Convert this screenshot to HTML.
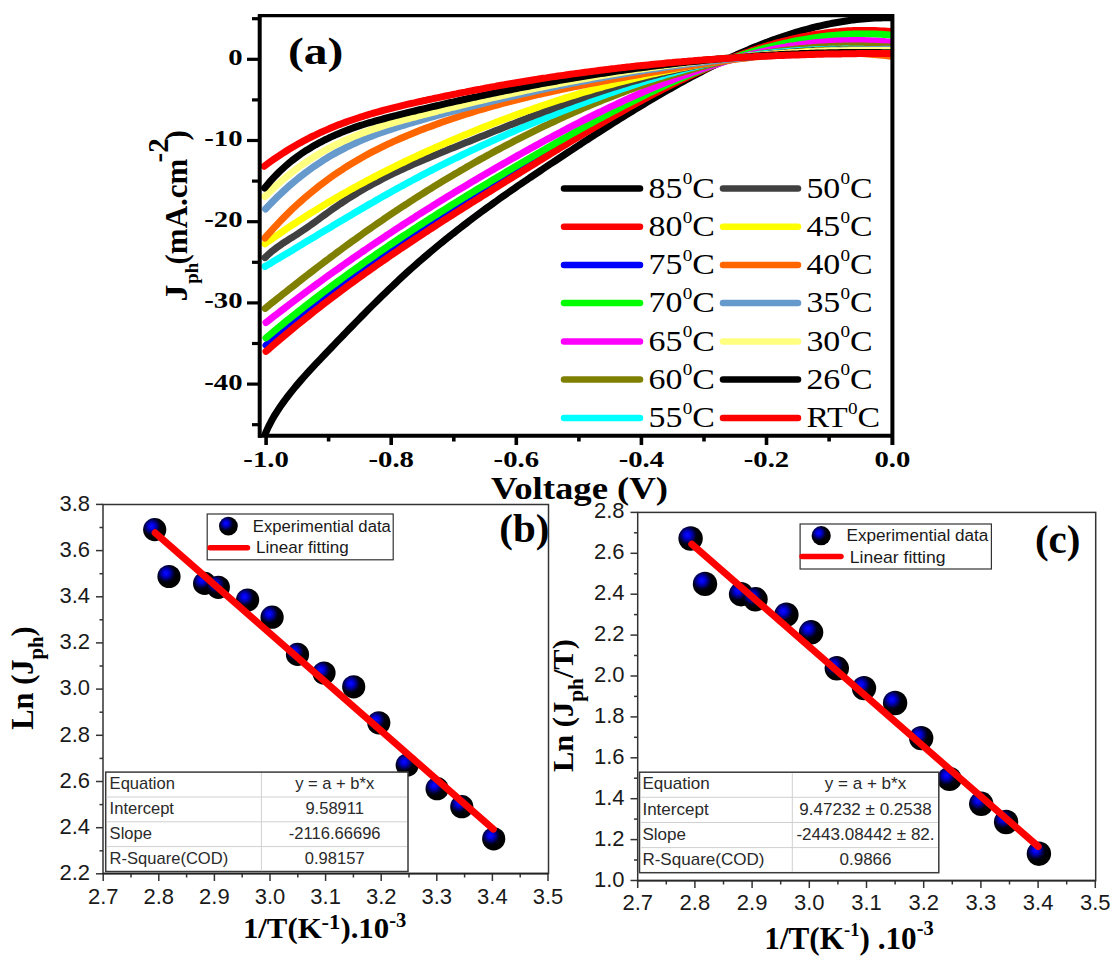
<!DOCTYPE html><html><head><meta charset="utf-8"><style>html,body{margin:0;padding:0;background:#fff;overflow:hidden}svg{display:block}</style></head><body><svg width="1114" height="971" viewBox="0 0 1114 971">
<rect width="1114" height="971" fill="#fff"/>
<defs><clipPath id="ca"><rect x="261" y="16" width="630" height="419"/></clipPath>
<radialGradient id="ball" cx="0.37" cy="0.36" r="0.52" fx="0.37" fy="0.36"><stop offset="0" stop-color="#0c0cff"/><stop offset="0.22" stop-color="#0000e8"/><stop offset="0.5" stop-color="#000070"/><stop offset="0.72" stop-color="#000010"/><stop offset="1" stop-color="#000"/></radialGradient></defs>
<g clip-path="url(#ca)" fill="none" stroke-linecap="round" stroke-linejoin="round">
<path d="M265.5,433.3 L268.5,426.6 L271.5,420.8 L274.5,415.5 L277.5,410.8 L280.5,406.3 L283.5,402.1 L286.5,398.0 L289.5,394.1 L292.5,390.3 L295.5,386.6 L298.5,383.1 L301.5,379.6 L304.5,376.2 L307.5,372.9 L310.5,369.6 L313.5,366.4 L316.5,363.2 L319.5,360.1 L322.5,356.9 L325.5,353.8 L328.5,350.6 L331.5,347.5 L334.5,344.4 L337.5,341.2 L340.5,338.1 L343.5,335.0 L346.5,331.9 L349.5,328.8 L352.5,325.7 L355.5,322.6 L358.5,319.6 L361.5,316.5 L364.5,313.5 L367.5,310.4 L370.5,307.4 L373.5,304.4 L376.5,301.5 L379.5,298.5 L382.5,295.6 L385.5,292.7 L388.5,289.8 L391.5,286.9 L394.5,284.1 L397.5,281.2 L400.5,278.4 L403.5,275.7 L406.5,272.9 L409.5,270.2 L412.5,267.5 L415.5,264.9 L418.5,262.2 L421.5,259.6 L424.5,257.0 L427.5,254.5 L430.5,251.9 L433.5,249.4 L436.5,246.9 L439.5,244.4 L442.5,242.0 L445.5,239.6 L448.5,237.1 L451.5,234.8 L454.5,232.4 L457.5,230.0 L460.5,227.7 L463.5,225.4 L466.5,223.1 L469.5,220.8 L472.5,218.5 L475.5,216.3 L478.5,214.0 L481.5,211.8 L484.5,209.6 L487.5,207.4 L490.5,205.3 L493.5,203.1 L496.5,201.0 L499.5,198.8 L502.5,196.7 L505.5,194.6 L508.5,192.5 L511.5,190.4 L514.5,188.3 L517.5,186.2 L520.5,184.2 L523.5,182.1 L526.5,180.1 L529.5,178.0 L532.5,176.0 L535.5,174.0 L538.5,172.0 L541.5,170.0 L544.5,167.9 L547.5,165.9 L550.5,163.9 L553.5,162.0 L556.5,160.0 L559.5,158.0 L562.5,156.0 L565.5,154.0 L568.5,152.0 L571.5,150.1 L574.5,148.1 L577.5,146.1 L580.5,144.2 L583.5,142.2 L586.5,140.2 L589.5,138.3 L592.5,136.4 L595.5,134.4 L598.5,132.5 L601.5,130.6 L604.5,128.6 L607.5,126.7 L610.5,124.8 L613.5,122.9 L616.5,121.0 L619.5,119.1 L622.5,117.3 L625.5,115.4 L628.5,113.5 L631.5,111.7 L634.5,109.8 L637.5,108.0 L640.5,106.2 L643.5,104.4 L646.5,102.6 L649.5,100.8 L652.5,99.0 L655.5,97.2 L658.5,95.5 L661.5,93.7 L664.5,92.0 L667.5,90.3 L670.5,88.6 L673.5,86.9 L676.5,85.2 L679.5,83.5 L682.5,81.9 L685.5,80.2 L688.5,78.6 L691.5,77.0 L694.5,75.4 L697.5,73.8 L700.5,72.3 L703.5,70.7 L706.5,69.2 L709.5,67.7 L712.5,66.2 L715.5,64.7 L718.5,63.2 L721.5,61.8 L724.5,60.3 L727.5,58.9 L730.5,57.5 L733.5,56.2 L736.5,54.8 L739.5,53.5 L742.5,52.2 L745.5,50.9 L748.5,49.6 L751.5,48.3 L754.5,47.1 L757.5,45.9 L760.5,44.7 L763.5,43.5 L766.5,42.4 L769.5,41.2 L772.5,40.1 L775.5,39.1 L778.5,38.0 L781.5,37.0 L784.5,36.0 L787.5,35.0 L790.5,34.0 L793.5,33.1 L796.5,32.2 L799.5,31.3 L802.5,30.4 L805.5,29.6 L808.5,28.8 L811.5,28.0 L814.5,27.2 L817.5,26.5 L820.5,25.8 L823.5,25.1 L826.5,24.5 L829.5,23.9 L832.5,23.3 L835.5,22.7 L838.5,22.2 L841.5,21.7 L844.5,21.2 L847.5,20.7 L850.5,20.3 L853.5,19.9 L856.5,19.6 L859.5,19.3 L862.5,19.0 L865.5,18.7 L868.5,18.5 L871.5,18.3 L874.5,18.1 L877.5,18.0 L880.5,17.9 L883.5,17.8 L886.5,17.8 L889.5,17.8 L891.0,17.8" stroke="#000000" stroke-width="7.0"/>
<path d="M266.0,345.3 L269.0,342.7 L272.0,340.2 L275.0,337.6 L278.0,335.1 L281.0,332.6 L284.0,330.1 L287.0,327.7 L290.0,325.2 L293.0,322.8 L296.0,320.4 L299.0,317.9 L302.0,315.6 L305.0,313.2 L308.0,310.8 L311.0,308.5 L314.0,306.1 L317.0,303.8 L320.0,301.5 L323.0,299.2 L326.0,296.9 L329.0,294.6 L332.0,292.4 L335.0,290.1 L338.0,287.9 L341.0,285.7 L344.0,283.5 L347.0,281.3 L350.0,279.1 L353.0,276.9 L356.0,274.8 L359.0,272.6 L362.0,270.5 L365.0,268.3 L368.0,266.2 L371.0,264.1 L374.0,262.0 L377.0,259.9 L380.0,257.9 L383.0,255.8 L386.0,253.7 L389.0,251.7 L392.0,249.6 L395.0,247.6 L398.0,245.6 L401.0,243.6 L404.0,241.6 L407.0,239.6 L410.0,237.6 L413.0,235.6 L416.0,233.6 L419.0,231.7 L422.0,229.7 L425.0,227.8 L428.0,225.8 L431.0,223.9 L434.0,222.0 L437.0,220.1 L440.0,218.1 L443.0,216.2 L446.0,214.3 L449.0,212.4 L452.0,210.5 L455.0,208.6 L458.0,206.8 L461.0,204.9 L464.0,203.0 L467.0,201.1 L470.0,199.3 L473.0,197.4 L476.0,195.6 L479.0,193.7 L482.0,191.9 L485.0,190.0 L488.0,188.2 L491.0,186.4 L494.0,184.5 L497.0,182.7 L500.0,180.9 L503.0,179.0 L506.0,177.2 L509.0,175.4 L512.0,173.6 L515.0,171.8 L518.0,169.9 L521.0,168.1 L524.0,166.3 L527.0,164.5 L530.0,162.7 L533.0,160.9 L536.0,159.1 L539.0,157.3 L542.0,155.5 L545.0,153.7 L548.0,151.9 L551.0,150.1 L554.0,148.3 L557.0,146.5 L560.0,144.7 L563.0,143.0 L566.0,141.2 L569.0,139.4 L572.0,137.7 L575.0,135.9 L578.0,134.2 L581.0,132.4 L584.0,130.7 L587.0,128.9 L590.0,127.2 L593.0,125.5 L596.0,123.8 L599.0,122.1 L602.0,120.4 L605.0,118.7 L608.0,117.0 L611.0,115.4 L614.0,113.7 L617.0,112.0 L620.0,110.4 L623.0,108.8 L626.0,107.1 L629.0,105.5 L632.0,103.9 L635.0,102.3 L638.0,100.7 L641.0,99.2 L644.0,97.6 L647.0,96.1 L650.0,94.5 L653.0,93.0 L656.0,91.5 L659.0,90.0 L662.0,88.5 L665.0,87.0 L668.0,85.6 L671.0,84.1 L674.0,82.7 L677.0,81.3 L680.0,79.9 L683.0,78.5 L686.0,77.1 L689.0,75.8 L692.0,74.4 L695.0,73.1 L698.0,71.8 L701.0,70.5 L704.0,69.2 L707.0,67.9 L710.0,66.7 L713.0,65.5 L716.0,64.3 L719.0,63.1 L722.0,61.9 L725.0,60.7 L728.0,59.6 L731.0,58.5 L734.0,57.4 L737.0,56.3 L740.0,55.3 L743.0,54.2 L746.0,53.2 L749.0,52.2 L752.0,51.2 L755.0,50.3 L758.0,49.3 L761.0,48.4 L764.0,47.5 L767.0,46.6 L770.0,45.8 L773.0,45.0 L776.0,44.2 L779.0,43.4 L782.0,42.6 L785.0,41.9 L788.0,41.2 L791.0,40.5 L794.0,39.8 L797.0,39.2 L800.0,38.6 L803.0,38.0 L806.0,37.5 L809.0,36.9 L812.0,36.4 L815.0,35.9 L818.0,35.5 L821.0,35.0 L824.0,34.6 L827.0,34.3 L830.0,33.9 L833.0,33.6 L836.0,33.3 L839.0,33.0 L842.0,32.8 L845.0,32.6 L848.0,32.4 L851.0,32.3 L854.0,32.1 L857.0,32.0 L860.0,32.0 L863.0,32.0 L866.0,32.0 L869.0,32.0 L872.0,32.1 L875.0,32.1 L878.0,32.3 L881.0,32.4 L884.0,32.6 L887.0,32.8 L890.0,33.1 L891.0,33.2" stroke="#0000ff" stroke-width="7.0"/>
<path d="M266.0,351.4 L269.0,348.8 L272.0,346.2 L275.0,343.6 L278.0,341.0 L281.0,338.5 L284.0,336.0 L287.0,333.5 L290.0,331.0 L293.0,328.5 L296.0,326.1 L299.0,323.6 L302.0,321.2 L305.0,318.8 L308.0,316.4 L311.0,314.0 L314.0,311.6 L317.0,309.3 L320.0,307.0 L323.0,304.6 L326.0,302.3 L329.0,300.0 L332.0,297.8 L335.0,295.5 L338.0,293.2 L341.0,291.0 L344.0,288.8 L347.0,286.5 L350.0,284.3 L353.0,282.2 L356.0,280.0 L359.0,277.8 L362.0,275.6 L365.0,273.5 L368.0,271.4 L371.0,269.2 L374.0,267.1 L377.0,265.0 L380.0,262.9 L383.0,260.9 L386.0,258.8 L389.0,256.7 L392.0,254.7 L395.0,252.6 L398.0,250.6 L401.0,248.5 L404.0,246.5 L407.0,244.5 L410.0,242.5 L413.0,240.5 L416.0,238.5 L419.0,236.6 L422.0,234.6 L425.0,232.6 L428.0,230.7 L431.0,228.7 L434.0,226.8 L437.0,224.8 L440.0,222.9 L443.0,220.9 L446.0,219.0 L449.0,217.1 L452.0,215.2 L455.0,213.3 L458.0,211.4 L461.0,209.5 L464.0,207.6 L467.0,205.7 L470.0,203.8 L473.0,201.9 L476.0,200.1 L479.0,198.2 L482.0,196.3 L485.0,194.4 L488.0,192.6 L491.0,190.7 L494.0,188.8 L497.0,187.0 L500.0,185.1 L503.0,183.3 L506.0,181.4 L509.0,179.5 L512.0,177.7 L515.0,175.8 L518.0,174.0 L521.0,172.1 L524.0,170.3 L527.0,168.4 L530.0,166.6 L533.0,164.7 L536.0,162.9 L539.0,161.0 L542.0,159.2 L545.0,157.3 L548.0,155.5 L551.0,153.6 L554.0,151.8 L557.0,149.9 L560.0,148.1 L563.0,146.3 L566.0,144.5 L569.0,142.6 L572.0,140.8 L575.0,139.0 L578.0,137.2 L581.0,135.4 L584.0,133.6 L587.0,131.8 L590.0,130.0 L593.0,128.2 L596.0,126.5 L599.0,124.7 L602.0,122.9 L605.0,121.2 L608.0,119.4 L611.0,117.7 L614.0,116.0 L617.0,114.3 L620.0,112.6 L623.0,110.9 L626.0,109.2 L629.0,107.5 L632.0,105.8 L635.0,104.2 L638.0,102.5 L641.0,100.9 L644.0,99.2 L647.0,97.6 L650.0,96.0 L653.0,94.4 L656.0,92.9 L659.0,91.3 L662.0,89.7 L665.0,88.2 L668.0,86.7 L671.0,85.2 L674.0,83.7 L677.0,82.2 L680.0,80.7 L683.0,79.3 L686.0,77.8 L689.0,76.4 L692.0,75.0 L695.0,73.6 L698.0,72.2 L701.0,70.9 L704.0,69.5 L707.0,68.2 L710.0,66.9 L713.0,65.6 L716.0,64.3 L719.0,63.1 L722.0,61.9 L725.0,60.6 L728.0,59.5 L731.0,58.3 L734.0,57.1 L737.0,56.0 L740.0,54.9 L743.0,53.8 L746.0,52.7 L749.0,51.7 L752.0,50.6 L755.0,49.6 L758.0,48.6 L761.0,47.7 L764.0,46.7 L767.0,45.8 L770.0,44.9 L773.0,44.1 L776.0,43.2 L779.0,42.4 L782.0,41.6 L785.0,40.8 L788.0,40.1 L791.0,39.3 L794.0,38.6 L797.0,38.0 L800.0,37.3 L803.0,36.7 L806.0,36.1 L809.0,35.6 L812.0,35.0 L815.0,34.5 L818.0,34.0 L821.0,33.6 L824.0,33.2 L827.0,32.8 L830.0,32.4 L833.0,32.1 L836.0,31.7 L839.0,31.5 L842.0,31.2 L845.0,31.0 L848.0,30.8 L851.0,30.7 L854.0,30.5 L857.0,30.4 L860.0,30.4 L863.0,30.4 L866.0,30.4 L869.0,30.4 L872.0,30.5 L875.0,30.6 L878.0,30.7 L881.0,30.9 L884.0,31.1 L887.0,31.3 L890.0,31.6 L891.0,31.7" stroke="#ff0000" stroke-width="7.0"/>
<path d="M266.0,337.9 L269.0,335.4 L272.0,332.9 L275.0,330.4 L278.0,327.9 L281.0,325.5 L284.0,323.0 L287.0,320.6 L290.0,318.2 L293.0,315.8 L296.0,313.4 L299.0,311.0 L302.0,308.7 L305.0,306.3 L308.0,304.0 L311.0,301.7 L314.0,299.4 L317.0,297.1 L320.0,294.8 L323.0,292.5 L326.0,290.3 L329.0,288.0 L332.0,285.8 L335.0,283.6 L338.0,281.4 L341.0,279.2 L344.0,277.0 L347.0,274.8 L350.0,272.7 L353.0,270.5 L356.0,268.4 L359.0,266.3 L362.0,264.1 L365.0,262.0 L368.0,259.9 L371.0,257.8 L374.0,255.8 L377.0,253.7 L380.0,251.6 L383.0,249.6 L386.0,247.6 L389.0,245.5 L392.0,243.5 L395.0,241.5 L398.0,239.5 L401.0,237.5 L404.0,235.5 L407.0,233.6 L410.0,231.6 L413.0,229.6 L416.0,227.7 L419.0,225.7 L422.0,223.8 L425.0,221.9 L428.0,219.9 L431.0,218.0 L434.0,216.1 L437.0,214.2 L440.0,212.3 L443.0,210.5 L446.0,208.6 L449.0,206.7 L452.0,204.8 L455.0,203.0 L458.0,201.1 L461.0,199.3 L464.0,197.4 L467.0,195.6 L470.0,193.8 L473.0,191.9 L476.0,190.1 L479.0,188.3 L482.0,186.5 L485.0,184.7 L488.0,182.9 L491.0,181.1 L494.0,179.3 L497.0,177.5 L500.0,175.7 L503.0,173.9 L506.0,172.1 L509.0,170.3 L512.0,168.6 L515.0,166.8 L518.0,165.0 L521.0,163.3 L524.0,161.5 L527.0,159.7 L530.0,158.0 L533.0,156.2 L536.0,154.5 L539.0,152.7 L542.0,151.0 L545.0,149.3 L548.0,147.5 L551.0,145.8 L554.0,144.1 L557.0,142.3 L560.0,140.6 L563.0,138.9 L566.0,137.2 L569.0,135.5 L572.0,133.8 L575.0,132.1 L578.0,130.5 L581.0,128.8 L584.0,127.1 L587.0,125.5 L590.0,123.8 L593.0,122.2 L596.0,120.5 L599.0,118.9 L602.0,117.3 L605.0,115.7 L608.0,114.1 L611.0,112.5 L614.0,110.9 L617.0,109.3 L620.0,107.8 L623.0,106.2 L626.0,104.7 L629.0,103.1 L632.0,101.6 L635.0,100.1 L638.0,98.6 L641.0,97.1 L644.0,95.6 L647.0,94.1 L650.0,92.7 L653.0,91.3 L656.0,89.8 L659.0,88.4 L662.0,87.0 L665.0,85.6 L668.0,84.2 L671.0,82.9 L674.0,81.5 L677.0,80.2 L680.0,78.8 L683.0,77.5 L686.0,76.2 L689.0,75.0 L692.0,73.7 L695.0,72.5 L698.0,71.2 L701.0,70.0 L704.0,68.8 L707.0,67.6 L710.0,66.4 L713.0,65.3 L716.0,64.2 L719.0,63.0 L722.0,61.9 L725.0,60.9 L728.0,59.8 L731.0,58.7 L734.0,57.7 L737.0,56.7 L740.0,55.7 L743.0,54.7 L746.0,53.8 L749.0,52.8 L752.0,51.9 L755.0,51.0 L758.0,50.2 L761.0,49.3 L764.0,48.5 L767.0,47.7 L770.0,46.9 L773.0,46.1 L776.0,45.3 L779.0,44.6 L782.0,43.9 L785.0,43.2 L788.0,42.6 L791.0,41.9 L794.0,41.3 L797.0,40.7 L800.0,40.1 L803.0,39.6 L806.0,39.1 L809.0,38.6 L812.0,38.1 L815.0,37.6 L818.0,37.2 L821.0,36.8 L824.0,36.4 L827.0,36.1 L830.0,35.8 L833.0,35.5 L836.0,35.2 L839.0,34.9 L842.0,34.7 L845.0,34.5 L848.0,34.3 L851.0,34.2 L854.0,34.1 L857.0,34.0 L860.0,33.9 L863.0,33.9 L866.0,33.9 L869.0,33.9 L872.0,34.0 L875.0,34.1 L878.0,34.2 L881.0,34.3 L884.0,34.5 L887.0,34.7 L890.0,34.9 L891.0,35.0" stroke="#00ff00" stroke-width="7.0"/>
<path d="M266.0,322.5 L269.0,320.2 L272.0,317.8 L275.0,315.5 L278.0,313.2 L281.0,310.9 L284.0,308.6 L287.0,306.3 L290.0,304.0 L293.0,301.7 L296.0,299.5 L299.0,297.2 L302.0,295.0 L305.0,292.7 L308.0,290.5 L311.0,288.3 L314.0,286.1 L317.0,283.9 L320.0,281.7 L323.0,279.5 L326.0,277.3 L329.0,275.2 L332.0,273.0 L335.0,270.9 L338.0,268.8 L341.0,266.6 L344.0,264.5 L347.0,262.4 L350.0,260.3 L353.0,258.2 L356.0,256.2 L359.0,254.1 L362.0,252.0 L365.0,250.0 L368.0,247.9 L371.0,245.9 L374.0,243.9 L377.0,241.8 L380.0,239.8 L383.0,237.8 L386.0,235.8 L389.0,233.9 L392.0,231.9 L395.0,229.9 L398.0,227.9 L401.0,226.0 L404.0,224.0 L407.0,222.1 L410.0,220.2 L413.0,218.3 L416.0,216.3 L419.0,214.4 L422.0,212.5 L425.0,210.6 L428.0,208.7 L431.0,206.9 L434.0,205.0 L437.0,203.1 L440.0,201.3 L443.0,199.4 L446.0,197.6 L449.0,195.8 L452.0,193.9 L455.0,192.1 L458.0,190.3 L461.0,188.5 L464.0,186.7 L467.0,184.9 L470.0,183.1 L473.0,181.3 L476.0,179.6 L479.0,177.8 L482.0,176.0 L485.0,174.3 L488.0,172.5 L491.0,170.8 L494.0,169.1 L497.0,167.3 L500.0,165.6 L503.0,163.9 L506.0,162.2 L509.0,160.5 L512.0,158.8 L515.0,157.1 L518.0,155.4 L521.0,153.7 L524.0,152.0 L527.0,150.4 L530.0,148.7 L533.0,147.1 L536.0,145.4 L539.0,143.8 L542.0,142.1 L545.0,140.5 L548.0,138.9 L551.0,137.3 L554.0,135.7 L557.0,134.1 L560.0,132.5 L563.0,130.9 L566.0,129.3 L569.0,127.7 L572.0,126.2 L575.0,124.6 L578.0,123.1 L581.0,121.5 L584.0,120.0 L587.0,118.5 L590.0,117.0 L593.0,115.5 L596.0,114.0 L599.0,112.5 L602.0,111.1 L605.0,109.6 L608.0,108.2 L611.0,106.7 L614.0,105.3 L617.0,103.9 L620.0,102.5 L623.0,101.1 L626.0,99.7 L629.0,98.3 L632.0,97.0 L635.0,95.6 L638.0,94.3 L641.0,93.0 L644.0,91.6 L647.0,90.4 L650.0,89.1 L653.0,87.8 L656.0,86.5 L659.0,85.3 L662.0,84.1 L665.0,82.8 L668.0,81.6 L671.0,80.4 L674.0,79.3 L677.0,78.1 L680.0,76.9 L683.0,75.8 L686.0,74.7 L689.0,73.6 L692.0,72.5 L695.0,71.4 L698.0,70.4 L701.0,69.3 L704.0,68.3 L707.0,67.3 L710.0,66.3 L713.0,65.3 L716.0,64.3 L719.0,63.4 L722.0,62.5 L725.0,61.5 L728.0,60.6 L731.0,59.8 L734.0,58.9 L737.0,58.1 L740.0,57.2 L743.0,56.4 L746.0,55.6 L749.0,54.9 L752.0,54.1 L755.0,53.4 L758.0,52.7 L761.0,52.0 L764.0,51.3 L767.0,50.6 L770.0,50.0 L773.0,49.4 L776.0,48.8 L779.0,48.2 L782.0,47.6 L785.0,47.1 L788.0,46.5 L791.0,46.0 L794.0,45.6 L797.0,45.1 L800.0,44.7 L803.0,44.3 L806.0,43.9 L809.0,43.5 L812.0,43.1 L815.0,42.8 L818.0,42.5 L821.0,42.2 L824.0,41.9 L827.0,41.7 L830.0,41.5 L833.0,41.3 L836.0,41.1 L839.0,41.0 L842.0,40.8 L845.0,40.7 L848.0,40.7 L851.0,40.6 L854.0,40.6 L857.0,40.6 L860.0,40.6 L863.0,40.6 L866.0,40.7 L869.0,40.8 L872.0,40.9 L875.0,41.0 L878.0,41.2 L881.0,41.4 L884.0,41.6 L887.0,41.9 L890.0,42.1 L891.0,42.2" stroke="#ff00ff" stroke-width="7.0"/>
<path d="M265.1,308.4 L268.1,306.0 L271.1,303.6 L274.1,301.2 L277.1,298.8 L280.1,296.4 L283.1,294.0 L286.1,291.7 L289.1,289.3 L292.1,286.9 L295.1,284.6 L298.1,282.2 L301.1,279.9 L304.1,277.5 L307.1,275.2 L310.1,272.9 L313.1,270.6 L316.1,268.3 L319.1,266.0 L322.1,263.7 L325.1,261.4 L328.1,259.2 L331.1,256.9 L334.1,254.7 L337.1,252.4 L340.1,250.2 L343.1,248.0 L346.1,245.8 L349.1,243.6 L352.1,241.4 L355.1,239.3 L358.1,237.1 L361.1,235.0 L364.1,232.8 L367.1,230.7 L370.1,228.6 L373.1,226.5 L376.1,224.4 L379.1,222.3 L382.1,220.3 L385.1,218.2 L388.1,216.2 L391.1,214.2 L394.1,212.2 L397.1,210.2 L400.1,208.2 L403.1,206.2 L406.1,204.3 L409.1,202.3 L412.1,200.4 L415.1,198.4 L418.1,196.5 L421.1,194.6 L424.1,192.7 L427.1,190.8 L430.1,189.0 L433.1,187.1 L436.1,185.3 L439.1,183.4 L442.1,181.6 L445.1,179.8 L448.1,178.0 L451.1,176.2 L454.1,174.4 L457.1,172.7 L460.1,170.9 L463.1,169.2 L466.1,167.4 L469.1,165.7 L472.1,164.0 L475.1,162.3 L478.1,160.6 L481.1,158.9 L484.1,157.3 L487.1,155.6 L490.1,154.0 L493.1,152.3 L496.1,150.7 L499.1,149.1 L502.1,147.5 L505.1,145.9 L508.1,144.3 L511.1,142.8 L514.1,141.2 L517.1,139.7 L520.1,138.1 L523.1,136.6 L526.1,135.1 L529.1,133.6 L532.1,132.1 L535.1,130.6 L538.1,129.2 L541.1,127.7 L544.1,126.2 L547.1,124.8 L550.1,123.4 L553.1,122.0 L556.1,120.6 L559.1,119.2 L562.1,117.8 L565.1,116.4 L568.1,115.1 L571.1,113.7 L574.1,112.4 L577.1,111.0 L580.1,109.7 L583.1,108.4 L586.1,107.1 L589.1,105.9 L592.1,104.6 L595.1,103.3 L598.1,102.1 L601.1,100.9 L604.1,99.6 L607.1,98.4 L610.1,97.2 L613.1,96.1 L616.1,94.9 L619.1,93.7 L622.1,92.6 L625.1,91.5 L628.1,90.3 L631.1,89.2 L634.1,88.1 L637.1,87.0 L640.1,86.0 L643.1,84.9 L646.1,83.9 L649.1,82.8 L652.1,81.8 L655.1,80.8 L658.1,79.8 L661.1,78.8 L664.1,77.8 L667.1,76.9 L670.1,75.9 L673.1,75.0 L676.1,74.1 L679.1,73.2 L682.1,72.3 L685.1,71.4 L688.1,70.6 L691.1,69.7 L694.1,68.9 L697.1,68.0 L700.1,67.2 L703.1,66.4 L706.1,65.6 L709.1,64.9 L712.1,64.1 L715.1,63.4 L718.1,62.6 L721.1,61.9 L724.1,61.2 L727.1,60.5 L730.1,59.9 L733.1,59.2 L736.1,58.6 L739.1,57.9 L742.1,57.3 L745.1,56.7 L748.1,56.2 L751.1,55.6 L754.1,55.0 L757.1,54.5 L760.1,54.0 L763.1,53.5 L766.1,53.0 L769.1,52.5 L772.1,52.1 L775.1,51.6 L778.1,51.2 L781.1,50.8 L784.1,50.4 L787.1,50.0 L790.1,49.7 L793.1,49.4 L796.1,49.0 L799.1,48.7 L802.1,48.4 L805.1,48.2 L808.1,47.9 L811.1,47.7 L814.1,47.4 L817.1,47.2 L820.1,47.0 L823.1,46.9 L826.1,46.7 L829.1,46.6 L832.1,46.4 L835.1,46.3 L838.1,46.2 L841.1,46.2 L844.1,46.1 L847.1,46.0 L850.1,46.0 L853.1,46.0 L856.1,46.0 L859.1,46.0 L862.1,46.0 L865.1,46.1 L868.1,46.2 L871.1,46.2 L874.1,46.3 L877.1,46.4 L880.1,46.6 L883.1,46.7 L886.1,46.8 L889.1,47.0 L891.0,47.1" stroke="#808000" stroke-width="7.0"/>
<path d="M265.0,266.4 L268.0,264.7 L271.0,262.9 L274.0,261.1 L277.0,259.3 L280.0,257.6 L283.0,255.8 L286.0,254.0 L289.0,252.2 L292.0,250.4 L295.0,248.6 L298.0,246.8 L301.0,244.9 L304.0,243.1 L307.0,241.3 L310.0,239.5 L313.0,237.7 L316.0,235.9 L319.0,234.1 L322.0,232.3 L325.0,230.5 L328.0,228.7 L331.0,226.9 L334.0,225.1 L337.0,223.3 L340.0,221.5 L343.0,219.7 L346.0,217.9 L349.0,216.2 L352.0,214.4 L355.0,212.6 L358.0,210.9 L361.0,209.1 L364.0,207.4 L367.0,205.6 L370.0,203.9 L373.0,202.2 L376.0,200.4 L379.0,198.7 L382.0,197.0 L385.0,195.3 L388.0,193.7 L391.0,192.0 L394.0,190.3 L397.0,188.6 L400.0,187.0 L403.0,185.4 L406.0,183.7 L409.0,182.1 L412.0,180.5 L415.0,178.9 L418.0,177.3 L421.0,175.7 L424.0,174.1 L427.0,172.6 L430.0,171.0 L433.0,169.5 L436.0,167.9 L439.0,166.4 L442.0,164.9 L445.0,163.4 L448.0,161.9 L451.0,160.4 L454.0,158.9 L457.0,157.5 L460.0,156.0 L463.0,154.5 L466.0,153.1 L469.0,151.7 L472.0,150.2 L475.0,148.8 L478.0,147.4 L481.0,146.0 L484.0,144.6 L487.0,143.3 L490.0,141.9 L493.0,140.5 L496.0,139.2 L499.0,137.8 L502.0,136.5 L505.0,135.2 L508.0,133.8 L511.0,132.5 L514.0,131.2 L517.0,129.9 L520.0,128.6 L523.0,127.3 L526.0,126.1 L529.0,124.8 L532.0,123.5 L535.0,122.3 L538.0,121.0 L541.0,119.8 L544.0,118.6 L547.0,117.4 L550.0,116.1 L553.0,114.9 L556.0,113.7 L559.0,112.5 L562.0,111.3 L565.0,110.1 L568.0,109.0 L571.0,107.8 L574.0,106.6 L577.0,105.5 L580.0,104.3 L583.0,103.2 L586.0,102.0 L589.0,100.9 L592.0,99.8 L595.0,98.7 L598.0,97.6 L601.0,96.5 L604.0,95.4 L607.0,94.3 L610.0,93.2 L613.0,92.1 L616.0,91.1 L619.0,90.0 L622.0,89.0 L625.0,88.0 L628.0,86.9 L631.0,85.9 L634.0,84.9 L637.0,83.9 L640.0,82.9 L643.0,82.0 L646.0,81.0 L649.0,80.0 L652.0,79.1 L655.0,78.1 L658.0,77.2 L661.0,76.3 L664.0,75.4 L667.0,74.5 L670.0,73.6 L673.0,72.8 L676.0,71.9 L679.0,71.1 L682.0,70.3 L685.0,69.4 L688.0,68.6 L691.0,67.9 L694.0,67.1 L697.0,66.3 L700.0,65.6 L703.0,64.9 L706.0,64.2 L709.0,63.5 L712.0,62.8 L715.0,62.1 L718.0,61.5 L721.0,60.9 L724.0,60.2 L727.0,59.6 L730.0,59.1 L733.0,58.5 L736.0,58.0 L739.0,57.5 L742.0,56.9 L745.0,56.5 L748.0,56.0 L751.0,55.5 L754.0,55.1 L757.0,54.7 L760.0,54.3 L763.0,53.9 L766.0,53.6 L769.0,53.2 L772.0,52.9 L775.0,52.6 L778.0,52.3 L781.0,52.0 L784.0,51.7 L787.0,51.4 L790.0,51.2 L793.0,51.0 L796.0,50.8 L799.0,50.6 L802.0,50.4 L805.0,50.2 L808.0,50.1 L811.0,49.9 L814.0,49.8 L817.0,49.7 L820.0,49.6 L823.0,49.5 L826.0,49.4 L829.0,49.3 L832.0,49.3 L835.0,49.2 L838.0,49.2 L841.0,49.2 L844.0,49.1 L847.0,49.1 L850.0,49.2 L853.0,49.2 L856.0,49.2 L859.0,49.2 L862.0,49.3 L865.0,49.4 L868.0,49.4 L871.0,49.5 L874.0,49.6 L877.0,49.7 L880.0,49.8 L883.0,49.9 L886.0,50.0 L889.0,50.1 L891.0,50.2" stroke="#00ffff" stroke-width="7.0"/>
<path d="M265.0,257.6 L268.0,254.8 L271.0,252.1 L274.0,249.7 L277.0,247.4 L280.0,245.3 L283.0,243.2 L286.0,241.3 L289.0,239.3 L292.0,237.5 L295.0,235.6 L298.0,233.7 L301.0,231.7 L304.0,229.7 L307.0,227.6 L310.0,225.5 L313.0,223.4 L316.0,221.2 L319.0,219.0 L322.0,216.8 L325.0,214.6 L328.0,212.5 L331.0,210.3 L334.0,208.2 L337.0,206.1 L340.0,204.0 L343.0,202.0 L346.0,200.0 L349.0,198.1 L352.0,196.2 L355.0,194.4 L358.0,192.6 L361.0,190.8 L364.0,189.0 L367.0,187.3 L370.0,185.6 L373.0,184.0 L376.0,182.4 L379.0,180.8 L382.0,179.2 L385.0,177.7 L388.0,176.2 L391.0,174.7 L394.0,173.2 L397.0,171.8 L400.0,170.4 L403.0,169.0 L406.0,167.6 L409.0,166.3 L412.0,164.9 L415.0,163.6 L418.0,162.3 L421.0,161.0 L424.0,159.7 L427.0,158.5 L430.0,157.2 L433.0,156.0 L436.0,154.7 L439.0,153.5 L442.0,152.3 L445.0,151.1 L448.0,149.8 L451.0,148.6 L454.0,147.4 L457.0,146.2 L460.0,145.0 L463.0,143.8 L466.0,142.6 L469.0,141.4 L472.0,140.2 L475.0,139.0 L478.0,137.8 L481.0,136.6 L484.0,135.4 L487.0,134.2 L490.0,133.0 L493.0,131.8 L496.0,130.6 L499.0,129.4 L502.0,128.2 L505.0,127.0 L508.0,125.8 L511.0,124.6 L514.0,123.5 L517.0,122.3 L520.0,121.1 L523.0,119.9 L526.0,118.8 L529.0,117.6 L532.0,116.4 L535.0,115.3 L538.0,114.1 L541.0,113.0 L544.0,111.8 L547.0,110.7 L550.0,109.6 L553.0,108.5 L556.0,107.3 L559.0,106.2 L562.0,105.1 L565.0,104.0 L568.0,102.9 L571.0,101.9 L574.0,100.8 L577.0,99.7 L580.0,98.6 L583.0,97.6 L586.0,96.5 L589.0,95.5 L592.0,94.5 L595.0,93.5 L598.0,92.5 L601.0,91.5 L604.0,90.5 L607.0,89.5 L610.0,88.5 L613.0,87.5 L616.0,86.6 L619.0,85.7 L622.0,84.7 L625.0,83.8 L628.0,82.9 L631.0,82.0 L634.0,81.1 L637.0,80.3 L640.0,79.4 L643.0,78.6 L646.0,77.7 L649.0,76.9 L652.0,76.1 L655.0,75.3 L658.0,74.5 L661.0,73.7 L664.0,73.0 L667.0,72.2 L670.0,71.5 L673.0,70.8 L676.0,70.1 L679.0,69.4 L682.0,68.7 L685.0,68.0 L688.0,67.4 L691.0,66.7 L694.0,66.1 L697.0,65.4 L700.0,64.8 L703.0,64.2 L706.0,63.7 L709.0,63.1 L712.0,62.5 L715.0,62.0 L718.0,61.4 L721.0,60.9 L724.0,60.4 L727.0,59.9 L730.0,59.4 L733.0,58.9 L736.0,58.5 L739.0,58.0 L742.0,57.6 L745.0,57.1 L748.0,56.7 L751.0,56.3 L754.0,55.9 L757.0,55.5 L760.0,55.2 L763.0,54.8 L766.0,54.5 L769.0,54.1 L772.0,53.8 L775.0,53.5 L778.0,53.2 L781.0,52.9 L784.0,52.7 L787.0,52.4 L790.0,52.2 L793.0,51.9 L796.0,51.7 L799.0,51.5 L802.0,51.3 L805.0,51.1 L808.0,50.9 L811.0,50.8 L814.0,50.6 L817.0,50.5 L820.0,50.3 L823.0,50.2 L826.0,50.1 L829.0,50.0 L832.0,49.9 L835.0,49.9 L838.0,49.8 L841.0,49.7 L844.0,49.7 L847.0,49.7 L850.0,49.7 L853.0,49.7 L856.0,49.7 L859.0,49.7 L862.0,49.7 L865.0,49.8 L868.0,49.8 L871.0,49.9 L874.0,50.0 L877.0,50.1 L880.0,50.2 L883.0,50.3 L886.0,50.4 L889.0,50.6 L891.0,50.7" stroke="#404040" stroke-width="7.0"/>
<path d="M265.0,243.8 L268.0,241.7 L271.0,239.6 L274.0,237.5 L277.0,235.4 L280.0,233.3 L283.0,231.3 L286.0,229.2 L289.0,227.2 L292.0,225.2 L295.0,223.3 L298.0,221.3 L301.0,219.4 L304.0,217.4 L307.0,215.5 L310.0,213.6 L313.0,211.8 L316.0,209.9 L319.0,208.1 L322.0,206.2 L325.0,204.4 L328.0,202.6 L331.0,200.9 L334.0,199.1 L337.0,197.4 L340.0,195.6 L343.0,193.9 L346.0,192.2 L349.0,190.5 L352.0,188.8 L355.0,187.2 L358.0,185.5 L361.0,183.9 L364.0,182.3 L367.0,180.7 L370.0,179.1 L373.0,177.5 L376.0,176.0 L379.0,174.4 L382.0,172.9 L385.0,171.4 L388.0,169.8 L391.0,168.3 L394.0,166.9 L397.0,165.4 L400.0,163.9 L403.0,162.5 L406.0,161.0 L409.0,159.6 L412.0,158.2 L415.0,156.8 L418.0,155.4 L421.0,154.0 L424.0,152.6 L427.0,151.3 L430.0,149.9 L433.0,148.6 L436.0,147.2 L439.0,145.9 L442.0,144.6 L445.0,143.3 L448.0,142.0 L451.0,140.7 L454.0,139.4 L457.0,138.2 L460.0,136.9 L463.0,135.6 L466.0,134.4 L469.0,133.2 L472.0,131.9 L475.0,130.7 L478.0,129.5 L481.0,128.3 L484.0,127.1 L487.0,125.9 L490.0,124.7 L493.0,123.6 L496.0,122.4 L499.0,121.3 L502.0,120.1 L505.0,119.0 L508.0,117.9 L511.0,116.7 L514.0,115.6 L517.0,114.5 L520.0,113.4 L523.0,112.4 L526.0,111.3 L529.0,110.2 L532.0,109.2 L535.0,108.1 L538.0,107.1 L541.0,106.0 L544.0,105.0 L547.0,104.0 L550.0,103.0 L553.0,102.0 L556.0,101.0 L559.0,100.0 L562.0,99.1 L565.0,98.1 L568.0,97.2 L571.0,96.2 L574.0,95.3 L577.0,94.4 L580.0,93.4 L583.0,92.5 L586.0,91.6 L589.0,90.8 L592.0,89.9 L595.0,89.0 L598.0,88.1 L601.0,87.3 L604.0,86.4 L607.0,85.6 L610.0,84.8 L613.0,84.0 L616.0,83.2 L619.0,82.4 L622.0,81.6 L625.0,80.8 L628.0,80.0 L631.0,79.3 L634.0,78.5 L637.0,77.8 L640.0,77.1 L643.0,76.3 L646.0,75.6 L649.0,74.9 L652.0,74.2 L655.0,73.5 L658.0,72.9 L661.0,72.2 L664.0,71.5 L667.0,70.9 L670.0,70.3 L673.0,69.6 L676.0,69.0 L679.0,68.4 L682.0,67.8 L685.0,67.2 L688.0,66.6 L691.0,66.1 L694.0,65.5 L697.0,65.0 L700.0,64.4 L703.0,63.9 L706.0,63.4 L709.0,62.9 L712.0,62.4 L715.0,61.9 L718.0,61.4 L721.0,60.9 L724.0,60.5 L727.0,60.0 L730.0,59.6 L733.0,59.1 L736.0,58.7 L739.0,58.3 L742.0,57.9 L745.0,57.5 L748.0,57.1 L751.0,56.8 L754.0,56.4 L757.0,56.0 L760.0,55.7 L763.0,55.4 L766.0,55.0 L769.0,54.7 L772.0,54.4 L775.0,54.1 L778.0,53.9 L781.0,53.6 L784.0,53.3 L787.0,53.1 L790.0,52.8 L793.0,52.6 L796.0,52.4 L799.0,52.2 L802.0,52.0 L805.0,51.8 L808.0,51.6 L811.0,51.4 L814.0,51.3 L817.0,51.1 L820.0,51.0 L823.0,50.9 L826.0,50.8 L829.0,50.7 L832.0,50.6 L835.0,50.5 L838.0,50.4 L841.0,50.3 L844.0,50.3 L847.0,50.3 L850.0,50.2 L853.0,50.2 L856.0,50.2 L859.0,50.2 L862.0,50.2 L865.0,50.2 L868.0,50.3 L871.0,50.3 L874.0,50.4 L877.0,50.4 L880.0,50.5 L883.0,50.6 L886.0,50.7 L889.0,50.8 L891.0,50.9" stroke="#ffff00" stroke-width="7.0"/>
<path d="M264.8,238.1 L267.8,234.6 L270.8,231.3 L273.8,228.0 L276.8,224.8 L279.8,221.6 L282.8,218.5 L285.8,215.5 L288.8,212.5 L291.8,209.6 L294.8,206.8 L297.8,204.0 L300.8,201.3 L303.8,198.7 L306.8,196.1 L309.8,193.6 L312.8,191.1 L315.8,188.7 L318.8,186.3 L321.8,184.0 L324.8,181.7 L327.8,179.5 L330.8,177.3 L333.8,175.2 L336.8,173.2 L339.8,171.1 L342.8,169.2 L345.8,167.2 L348.8,165.3 L351.8,163.5 L354.8,161.7 L357.8,159.9 L360.8,158.2 L363.8,156.5 L366.8,154.8 L369.8,153.2 L372.8,151.6 L375.8,150.1 L378.8,148.6 L381.8,147.1 L384.8,145.6 L387.8,144.2 L390.8,142.8 L393.8,141.4 L396.8,140.1 L399.8,138.8 L402.8,137.5 L405.8,136.2 L408.8,134.9 L411.8,133.7 L414.8,132.5 L417.8,131.3 L420.8,130.1 L423.8,128.9 L426.8,127.8 L429.8,126.7 L432.8,125.6 L435.8,124.5 L438.8,123.4 L441.8,122.3 L444.8,121.2 L447.8,120.2 L450.8,119.2 L453.8,118.2 L456.8,117.2 L459.8,116.2 L462.8,115.2 L465.8,114.2 L468.8,113.3 L471.8,112.4 L474.8,111.4 L477.8,110.5 L480.8,109.6 L483.8,108.8 L486.8,107.9 L489.8,107.0 L492.8,106.2 L495.8,105.3 L498.8,104.5 L501.8,103.7 L504.8,102.9 L507.8,102.1 L510.8,101.3 L513.8,100.6 L516.8,99.8 L519.8,99.0 L522.8,98.3 L525.8,97.6 L528.8,96.8 L531.8,96.1 L534.8,95.4 L537.8,94.7 L540.8,94.0 L543.8,93.3 L546.8,92.7 L549.8,92.0 L552.8,91.3 L555.8,90.7 L558.8,90.0 L561.8,89.4 L564.8,88.8 L567.8,88.1 L570.8,87.5 L573.8,86.9 L576.8,86.3 L579.8,85.7 L582.8,85.1 L585.8,84.5 L588.8,83.9 L591.8,83.3 L594.8,82.7 L597.8,82.2 L600.8,81.6 L603.8,81.0 L606.8,80.5 L609.8,79.9 L612.8,79.4 L615.8,78.8 L618.8,78.3 L621.8,77.7 L624.8,77.2 L627.8,76.6 L630.8,76.1 L633.8,75.5 L636.8,75.0 L639.8,74.5 L642.8,73.9 L645.8,73.4 L648.8,72.9 L651.8,72.4 L654.8,71.8 L657.8,71.3 L660.8,70.8 L663.8,70.3 L666.8,69.8 L669.8,69.2 L672.8,68.7 L675.8,68.2 L678.8,67.7 L681.8,67.2 L684.8,66.7 L687.8,66.2 L690.8,65.8 L693.8,65.3 L696.8,64.8 L699.8,64.3 L702.8,63.9 L705.8,63.4 L708.8,63.0 L711.8,62.5 L714.8,62.1 L717.8,61.7 L720.8,61.3 L723.8,60.8 L726.8,60.4 L729.8,60.0 L732.8,59.6 L735.8,59.3 L738.8,58.9 L741.8,58.5 L744.8,58.2 L747.8,57.8 L750.8,57.5 L753.8,57.1 L756.8,56.8 L759.8,56.5 L762.8,56.2 L765.8,55.9 L768.8,55.7 L771.8,55.4 L774.8,55.1 L777.8,54.9 L780.8,54.7 L783.8,54.4 L786.8,54.2 L789.8,54.0 L792.8,53.8 L795.8,53.7 L798.8,53.5 L801.8,53.4 L804.8,53.2 L807.8,53.1 L810.8,53.0 L813.8,52.9 L816.8,52.8 L819.8,52.8 L822.8,52.7 L825.8,52.7 L828.8,52.7 L831.8,52.7 L834.8,52.7 L837.8,52.7 L840.8,52.8 L843.8,52.8 L846.8,52.9 L849.8,53.0 L852.8,53.1 L855.8,53.3 L858.8,53.4 L861.8,53.6 L864.8,53.8 L867.8,54.0 L870.8,54.2 L873.8,54.4 L876.8,54.7 L879.8,55.0 L882.8,55.2 L885.8,55.6 L888.8,55.9 L891.0,56.2" stroke="#ff6600" stroke-width="7.0"/>
<path d="M265.5,209.0 L268.5,205.9 L271.5,202.8 L274.5,199.8 L277.5,196.8 L280.5,193.9 L283.5,191.1 L286.5,188.4 L289.5,185.7 L292.5,183.1 L295.5,180.6 L298.5,178.1 L301.5,175.8 L304.5,173.4 L307.5,171.2 L310.5,169.0 L313.5,166.8 L316.5,164.8 L319.5,162.8 L322.5,160.8 L325.5,158.9 L328.5,157.1 L331.5,155.3 L334.5,153.6 L337.5,151.9 L340.5,150.3 L343.5,148.8 L346.5,147.2 L349.5,145.8 L352.5,144.4 L355.5,143.0 L358.5,141.6 L361.5,140.3 L364.5,139.1 L367.5,137.8 L370.5,136.6 L373.5,135.5 L376.5,134.3 L379.5,133.2 L382.5,132.2 L385.5,131.1 L388.5,130.1 L391.5,129.1 L394.5,128.1 L397.5,127.1 L400.5,126.2 L403.5,125.3 L406.5,124.4 L409.5,123.5 L412.5,122.6 L415.5,121.7 L418.5,120.8 L421.5,120.0 L424.5,119.1 L427.5,118.2 L430.5,117.4 L433.5,116.6 L436.5,115.7 L439.5,114.9 L442.5,114.1 L445.5,113.2 L448.5,112.4 L451.5,111.6 L454.5,110.8 L457.5,110.0 L460.5,109.2 L463.5,108.4 L466.5,107.6 L469.5,106.8 L472.5,106.1 L475.5,105.3 L478.5,104.5 L481.5,103.8 L484.5,103.0 L487.5,102.3 L490.5,101.5 L493.5,100.8 L496.5,100.0 L499.5,99.3 L502.5,98.6 L505.5,97.9 L508.5,97.2 L511.5,96.5 L514.5,95.8 L517.5,95.1 L520.5,94.4 L523.5,93.7 L526.5,93.0 L529.5,92.3 L532.5,91.7 L535.5,91.0 L538.5,90.3 L541.5,89.7 L544.5,89.0 L547.5,88.4 L550.5,87.7 L553.5,87.1 L556.5,86.5 L559.5,85.9 L562.5,85.2 L565.5,84.6 L568.5,84.0 L571.5,83.4 L574.5,82.8 L577.5,82.2 L580.5,81.6 L583.5,81.1 L586.5,80.5 L589.5,79.9 L592.5,79.4 L595.5,78.8 L598.5,78.2 L601.5,77.7 L604.5,77.1 L607.5,76.6 L610.5,76.1 L613.5,75.5 L616.5,75.0 L619.5,74.5 L622.5,74.0 L625.5,73.5 L628.5,73.0 L631.5,72.5 L634.5,72.0 L637.5,71.5 L640.5,71.0 L643.5,70.5 L646.5,70.1 L649.5,69.6 L652.5,69.1 L655.5,68.7 L658.5,68.2 L661.5,67.8 L664.5,67.4 L667.5,66.9 L670.5,66.5 L673.5,66.1 L676.5,65.6 L679.5,65.2 L682.5,64.8 L685.5,64.4 L688.5,64.0 L691.5,63.6 L694.5,63.2 L697.5,62.9 L700.5,62.5 L703.5,62.1 L706.5,61.7 L709.5,61.4 L712.5,61.0 L715.5,60.7 L718.5,60.3 L721.5,60.0 L724.5,59.7 L727.5,59.3 L730.5,59.0 L733.5,58.7 L736.5,58.4 L739.5,58.1 L742.5,57.7 L745.5,57.4 L748.5,57.2 L751.5,56.9 L754.5,56.6 L757.5,56.3 L760.5,56.0 L763.5,55.8 L766.5,55.5 L769.5,55.2 L772.5,55.0 L775.5,54.7 L778.5,54.5 L781.5,54.3 L784.5,54.0 L787.5,53.8 L790.5,53.6 L793.5,53.4 L796.5,53.2 L799.5,53.0 L802.5,52.8 L805.5,52.6 L808.5,52.4 L811.5,52.2 L814.5,52.0 L817.5,51.8 L820.5,51.7 L823.5,51.5 L826.5,51.3 L829.5,51.2 L832.5,51.0 L835.5,50.9 L838.5,50.8 L841.5,50.6 L844.5,50.5 L847.5,50.4 L850.5,50.3 L853.5,50.1 L856.5,50.0 L859.5,49.9 L862.5,49.8 L865.5,49.7 L868.5,49.7 L871.5,49.6 L874.5,49.5 L877.5,49.4 L880.5,49.4 L883.5,49.3 L886.5,49.2 L889.5,49.2 L891.0,49.2" stroke="#6699cc" stroke-width="7.0"/>
<path d="M264.8,196.6 L267.8,193.7 L270.8,190.7 L273.8,187.9 L276.8,185.2 L279.8,182.5 L282.8,179.9 L285.8,177.3 L288.8,174.9 L291.8,172.5 L294.8,170.2 L297.8,168.0 L300.8,165.8 L303.8,163.7 L306.8,161.6 L309.8,159.6 L312.8,157.7 L315.8,155.8 L318.8,154.0 L321.8,152.2 L324.8,150.5 L327.8,148.9 L330.8,147.3 L333.8,145.7 L336.8,144.2 L339.8,142.8 L342.8,141.4 L345.8,140.0 L348.8,138.7 L351.8,137.4 L354.8,136.1 L357.8,134.9 L360.8,133.8 L363.8,132.6 L366.8,131.5 L369.8,130.4 L372.8,129.4 L375.8,128.4 L378.8,127.4 L381.8,126.4 L384.8,125.5 L387.8,124.5 L390.8,123.6 L393.8,122.7 L396.8,121.9 L399.8,121.0 L402.8,120.2 L405.8,119.4 L408.8,118.6 L411.8,117.7 L414.8,117.0 L417.8,116.2 L420.8,115.4 L423.8,114.6 L426.8,113.8 L429.8,113.0 L432.8,112.3 L435.8,111.5 L438.8,110.7 L441.8,110.0 L444.8,109.2 L447.8,108.5 L450.8,107.7 L453.8,107.0 L456.8,106.3 L459.8,105.5 L462.8,104.8 L465.8,104.1 L468.8,103.3 L471.8,102.6 L474.8,101.9 L477.8,101.2 L480.8,100.5 L483.8,99.8 L486.8,99.1 L489.8,98.4 L492.8,97.7 L495.8,97.0 L498.8,96.3 L501.8,95.7 L504.8,95.0 L507.8,94.3 L510.8,93.7 L513.8,93.0 L516.8,92.3 L519.8,91.7 L522.8,91.1 L525.8,90.4 L528.8,89.8 L531.8,89.1 L534.8,88.5 L537.8,87.9 L540.8,87.3 L543.8,86.6 L546.8,86.0 L549.8,85.4 L552.8,84.8 L555.8,84.2 L558.8,83.6 L561.8,83.0 L564.8,82.5 L567.8,81.9 L570.8,81.3 L573.8,80.7 L576.8,80.2 L579.8,79.6 L582.8,79.1 L585.8,78.5 L588.8,78.0 L591.8,77.4 L594.8,76.9 L597.8,76.3 L600.8,75.8 L603.8,75.3 L606.8,74.8 L609.8,74.3 L612.8,73.8 L615.8,73.3 L618.8,72.8 L621.8,72.3 L624.8,71.8 L627.8,71.3 L630.8,70.8 L633.8,70.3 L636.8,69.9 L639.8,69.4 L642.8,69.0 L645.8,68.5 L648.8,68.1 L651.8,67.6 L654.8,67.2 L657.8,66.7 L660.8,66.3 L663.8,65.9 L666.8,65.5 L669.8,65.1 L672.8,64.7 L675.8,64.3 L678.8,63.9 L681.8,63.5 L684.8,63.1 L687.8,62.7 L690.8,62.3 L693.8,62.0 L696.8,61.6 L699.8,61.2 L702.8,60.9 L705.8,60.5 L708.8,60.2 L711.8,59.9 L714.8,59.5 L717.8,59.2 L720.8,58.9 L723.8,58.6 L726.8,58.3 L729.8,58.0 L732.8,57.7 L735.8,57.4 L738.8,57.1 L741.8,56.8 L744.8,56.5 L747.8,56.3 L750.8,56.0 L753.8,55.7 L756.8,55.5 L759.8,55.2 L762.8,55.0 L765.8,54.8 L768.8,54.5 L771.8,54.3 L774.8,54.1 L777.8,53.9 L780.8,53.7 L783.8,53.5 L786.8,53.3 L789.8,53.1 L792.8,52.9 L795.8,52.8 L798.8,52.6 L801.8,52.4 L804.8,52.3 L807.8,52.1 L810.8,52.0 L813.8,51.8 L816.8,51.7 L819.8,51.6 L822.8,51.5 L825.8,51.3 L828.8,51.2 L831.8,51.1 L834.8,51.0 L837.8,50.9 L840.8,50.9 L843.8,50.8 L846.8,50.7 L849.8,50.6 L852.8,50.6 L855.8,50.5 L858.8,50.5 L861.8,50.5 L864.8,50.4 L867.8,50.4 L870.8,50.4 L873.8,50.4 L876.8,50.4 L879.8,50.4 L882.8,50.4 L885.8,50.4 L888.8,50.4 L891.0,50.4" stroke="#ffff80" stroke-width="7.0"/>
<path d="M264.6,188.0 L267.6,184.4 L270.6,180.9 L273.6,177.6 L276.6,174.5 L279.6,171.5 L282.6,168.7 L285.6,166.0 L288.6,163.4 L291.6,160.9 L294.6,158.6 L297.6,156.4 L300.6,154.2 L303.6,152.2 L306.6,150.2 L309.6,148.4 L312.6,146.6 L315.6,144.8 L318.6,143.2 L321.6,141.6 L324.6,140.0 L327.6,138.6 L330.6,137.1 L333.6,135.8 L336.6,134.4 L339.6,133.2 L342.6,131.9 L345.6,130.7 L348.6,129.6 L351.6,128.5 L354.6,127.4 L357.6,126.4 L360.6,125.4 L363.6,124.5 L366.6,123.5 L369.6,122.6 L372.6,121.8 L375.6,120.9 L378.6,120.1 L381.6,119.3 L384.6,118.5 L387.6,117.7 L390.6,116.9 L393.6,116.1 L396.6,115.4 L399.6,114.6 L402.6,113.9 L405.6,113.2 L408.6,112.4 L411.6,111.7 L414.6,111.0 L417.6,110.2 L420.6,109.5 L423.6,108.8 L426.6,108.1 L429.6,107.4 L432.6,106.7 L435.6,106.0 L438.6,105.3 L441.6,104.6 L444.6,103.9 L447.6,103.2 L450.6,102.5 L453.6,101.9 L456.6,101.2 L459.6,100.5 L462.6,99.8 L465.6,99.2 L468.6,98.5 L471.6,97.9 L474.6,97.2 L477.6,96.6 L480.6,95.9 L483.6,95.3 L486.6,94.6 L489.6,94.0 L492.6,93.4 L495.6,92.8 L498.6,92.1 L501.6,91.5 L504.6,90.9 L507.6,90.3 L510.6,89.7 L513.6,89.1 L516.6,88.5 L519.6,87.9 L522.6,87.3 L525.6,86.8 L528.6,86.2 L531.6,85.6 L534.6,85.0 L537.6,84.5 L540.6,83.9 L543.6,83.4 L546.6,82.8 L549.6,82.3 L552.6,81.7 L555.6,81.2 L558.6,80.6 L561.6,80.1 L564.6,79.6 L567.6,79.1 L570.6,78.6 L573.6,78.0 L576.6,77.5 L579.6,77.0 L582.6,76.5 L585.6,76.0 L588.6,75.6 L591.6,75.1 L594.6,74.6 L597.6,74.1 L600.6,73.6 L603.6,73.2 L606.6,72.7 L609.6,72.3 L612.6,71.8 L615.6,71.4 L618.6,70.9 L621.6,70.5 L624.6,70.1 L627.6,69.6 L630.6,69.2 L633.6,68.8 L636.6,68.4 L639.6,68.0 L642.6,67.6 L645.6,67.2 L648.6,66.8 L651.6,66.4 L654.6,66.0 L657.6,65.6 L660.6,65.2 L663.6,64.9 L666.6,64.5 L669.6,64.2 L672.6,63.8 L675.6,63.5 L678.6,63.1 L681.6,62.8 L684.6,62.4 L687.6,62.1 L690.6,61.8 L693.6,61.5 L696.6,61.2 L699.6,60.9 L702.6,60.6 L705.6,60.3 L708.6,60.0 L711.6,59.7 L714.6,59.4 L717.6,59.1 L720.6,58.9 L723.6,58.6 L726.6,58.3 L729.6,58.1 L732.6,57.8 L735.6,57.6 L738.6,57.3 L741.6,57.1 L744.6,56.9 L747.6,56.7 L750.6,56.5 L753.6,56.2 L756.6,56.0 L759.6,55.8 L762.6,55.6 L765.6,55.5 L768.6,55.3 L771.6,55.1 L774.6,54.9 L777.6,54.8 L780.6,54.6 L783.6,54.4 L786.6,54.3 L789.6,54.2 L792.6,54.0 L795.6,53.9 L798.6,53.8 L801.6,53.6 L804.6,53.5 L807.6,53.4 L810.6,53.3 L813.6,53.2 L816.6,53.1 L819.6,53.0 L822.6,53.0 L825.6,52.9 L828.6,52.8 L831.6,52.8 L834.6,52.7 L837.6,52.7 L840.6,52.6 L843.6,52.6 L846.6,52.6 L849.6,52.5 L852.6,52.5 L855.6,52.5 L858.6,52.5 L861.6,52.5 L864.6,52.5 L867.6,52.5 L870.6,52.5 L873.6,52.6 L876.6,52.6 L879.6,52.6 L882.6,52.7 L885.6,52.7 L888.6,52.8 L891.0,52.8" stroke="#000000" stroke-width="7.0"/>
<path d="M264.2,166.2 L267.2,164.0 L270.2,161.8 L273.2,159.7 L276.2,157.6 L279.2,155.6 L282.2,153.6 L285.2,151.7 L288.2,149.8 L291.2,148.0 L294.2,146.2 L297.2,144.5 L300.2,142.8 L303.2,141.2 L306.2,139.6 L309.2,138.0 L312.2,136.5 L315.2,135.1 L318.2,133.6 L321.2,132.2 L324.2,130.9 L327.2,129.6 L330.2,128.3 L333.2,127.0 L336.2,125.8 L339.2,124.6 L342.2,123.5 L345.2,122.4 L348.2,121.3 L351.2,120.2 L354.2,119.2 L357.2,118.2 L360.2,117.2 L363.2,116.3 L366.2,115.3 L369.2,114.4 L372.2,113.5 L375.2,112.7 L378.2,111.8 L381.2,111.0 L384.2,110.2 L387.2,109.4 L390.2,108.6 L393.2,107.8 L396.2,107.1 L399.2,106.4 L402.2,105.6 L405.2,104.9 L408.2,104.2 L411.2,103.5 L414.2,102.9 L417.2,102.2 L420.2,101.5 L423.2,100.8 L426.2,100.2 L429.2,99.5 L432.2,98.9 L435.2,98.2 L438.2,97.6 L441.2,97.0 L444.2,96.3 L447.2,95.7 L450.2,95.1 L453.2,94.5 L456.2,93.9 L459.2,93.2 L462.2,92.6 L465.2,92.1 L468.2,91.5 L471.2,90.9 L474.2,90.3 L477.2,89.7 L480.2,89.2 L483.2,88.6 L486.2,88.0 L489.2,87.5 L492.2,86.9 L495.2,86.4 L498.2,85.8 L501.2,85.3 L504.2,84.8 L507.2,84.2 L510.2,83.7 L513.2,83.2 L516.2,82.7 L519.2,82.2 L522.2,81.7 L525.2,81.2 L528.2,80.7 L531.2,80.2 L534.2,79.7 L537.2,79.3 L540.2,78.8 L543.2,78.3 L546.2,77.9 L549.2,77.4 L552.2,76.9 L555.2,76.5 L558.2,76.0 L561.2,75.6 L564.2,75.2 L567.2,74.7 L570.2,74.3 L573.2,73.9 L576.2,73.5 L579.2,73.1 L582.2,72.7 L585.2,72.3 L588.2,71.9 L591.2,71.5 L594.2,71.1 L597.2,70.7 L600.2,70.3 L603.2,69.9 L606.2,69.6 L609.2,69.2 L612.2,68.8 L615.2,68.5 L618.2,68.1 L621.2,67.8 L624.2,67.4 L627.2,67.1 L630.2,66.8 L633.2,66.4 L636.2,66.1 L639.2,65.8 L642.2,65.5 L645.2,65.2 L648.2,64.9 L651.2,64.6 L654.2,64.3 L657.2,64.0 L660.2,63.7 L663.2,63.4 L666.2,63.1 L669.2,62.8 L672.2,62.6 L675.2,62.3 L678.2,62.0 L681.2,61.8 L684.2,61.5 L687.2,61.3 L690.2,61.0 L693.2,60.8 L696.2,60.5 L699.2,60.3 L702.2,60.1 L705.2,59.8 L708.2,59.6 L711.2,59.4 L714.2,59.2 L717.2,59.0 L720.2,58.8 L723.2,58.6 L726.2,58.4 L729.2,58.2 L732.2,58.0 L735.2,57.8 L738.2,57.6 L741.2,57.4 L744.2,57.3 L747.2,57.1 L750.2,56.9 L753.2,56.8 L756.2,56.6 L759.2,56.5 L762.2,56.3 L765.2,56.2 L768.2,56.0 L771.2,55.9 L774.2,55.8 L777.2,55.6 L780.2,55.5 L783.2,55.4 L786.2,55.3 L789.2,55.2 L792.2,55.1 L795.2,55.0 L798.2,54.9 L801.2,54.8 L804.2,54.7 L807.2,54.6 L810.2,54.5 L813.2,54.4 L816.2,54.3 L819.2,54.3 L822.2,54.2 L825.2,54.1 L828.2,54.1 L831.2,54.0 L834.2,53.9 L837.2,53.9 L840.2,53.9 L843.2,53.8 L846.2,53.8 L849.2,53.7 L852.2,53.7 L855.2,53.7 L858.2,53.6 L861.2,53.6 L864.2,53.6 L867.2,53.6 L870.2,53.6 L873.2,53.6 L876.2,53.6 L879.2,53.6 L882.2,53.6 L885.2,53.6 L888.2,53.6 L891.0,53.6" stroke="#ff0000" stroke-width="7.0"/>
</g>
<g stroke="#000" fill="none">
<line x1="259.7" y1="14.5" x2="259.7" y2="437.8" stroke-width="4"/>
<line x1="258" y1="15.6" x2="894" y2="15.6" stroke-width="3.2"/>
<line x1="892.4" y1="14" x2="892.4" y2="445" stroke-width="4"/>
<line x1="258" y1="435.8" x2="894" y2="435.8" stroke-width="4"/>
<line x1="247" y1="59.3" x2="260" y2="59.3" stroke-width="3.2"/>
<line x1="247" y1="140.5" x2="260" y2="140.5" stroke-width="3.2"/>
<line x1="247" y1="221.7" x2="260" y2="221.7" stroke-width="3.2"/>
<line x1="247" y1="302.9" x2="260" y2="302.9" stroke-width="3.2"/>
<line x1="247" y1="384.1" x2="260" y2="384.1" stroke-width="3.2"/>
<line x1="252" y1="18.7" x2="260" y2="18.7" stroke-width="3.2"/>
<line x1="252" y1="99.9" x2="260" y2="99.9" stroke-width="3.2"/>
<line x1="252" y1="181.1" x2="260" y2="181.1" stroke-width="3.2"/>
<line x1="252" y1="262.3" x2="260" y2="262.3" stroke-width="3.2"/>
<line x1="252" y1="343.5" x2="260" y2="343.5" stroke-width="3.2"/>
<line x1="252" y1="424.7" x2="260" y2="424.7" stroke-width="3.2"/>
<line x1="266.1" y1="436" x2="266.1" y2="445" stroke-width="3.6"/>
<line x1="391.2" y1="436" x2="391.2" y2="445" stroke-width="3.6"/>
<line x1="516.3" y1="436" x2="516.3" y2="445" stroke-width="3.6"/>
<line x1="641.4" y1="436" x2="641.4" y2="445" stroke-width="3.6"/>
<line x1="766.5" y1="436" x2="766.5" y2="445" stroke-width="3.6"/>
<line x1="328.6" y1="436" x2="328.6" y2="441.5" stroke-width="3.6"/>
<line x1="453.8" y1="436" x2="453.8" y2="441.5" stroke-width="3.6"/>
<line x1="578.9" y1="436" x2="578.9" y2="441.5" stroke-width="3.6"/>
<line x1="704.0" y1="436" x2="704.0" y2="441.5" stroke-width="3.6"/>
<line x1="829.1" y1="436" x2="829.1" y2="441.5" stroke-width="3.6"/>
</g>
<text transform="translate(242.5,64.7) scale(1.25,1)" text-anchor="end" style="font-family:'Liberation Serif',serif;font-size:23px;font-weight:bold" fill="#000" >0</text>
<text transform="translate(242.5,145.9) scale(1.25,1)" text-anchor="end" style="font-family:'Liberation Serif',serif;font-size:23px;font-weight:bold" fill="#000" >-10</text>
<text transform="translate(242.5,227.1) scale(1.25,1)" text-anchor="end" style="font-family:'Liberation Serif',serif;font-size:23px;font-weight:bold" fill="#000" >-20</text>
<text transform="translate(242.5,308.3) scale(1.25,1)" text-anchor="end" style="font-family:'Liberation Serif',serif;font-size:23px;font-weight:bold" fill="#000" >-30</text>
<text transform="translate(242.5,389.5) scale(1.25,1)" text-anchor="end" style="font-family:'Liberation Serif',serif;font-size:23px;font-weight:bold" fill="#000" >-40</text>
<text transform="translate(266.1,467.4) scale(1.25,1)" text-anchor="middle" style="font-family:'Liberation Serif',serif;font-size:23px;font-weight:bold" fill="#000" >-1.0</text>
<text transform="translate(391.2,467.4) scale(1.25,1)" text-anchor="middle" style="font-family:'Liberation Serif',serif;font-size:23px;font-weight:bold" fill="#000" >-0.8</text>
<text transform="translate(516.3,467.4) scale(1.25,1)" text-anchor="middle" style="font-family:'Liberation Serif',serif;font-size:23px;font-weight:bold" fill="#000" >-0.6</text>
<text transform="translate(641.4,467.4) scale(1.25,1)" text-anchor="middle" style="font-family:'Liberation Serif',serif;font-size:23px;font-weight:bold" fill="#000" >-0.4</text>
<text transform="translate(766.5,467.4) scale(1.25,1)" text-anchor="middle" style="font-family:'Liberation Serif',serif;font-size:23px;font-weight:bold" fill="#000" >-0.2</text>
<text transform="translate(892.4,467.4) scale(1.25,1)" text-anchor="middle" style="font-family:'Liberation Serif',serif;font-size:23px;font-weight:bold" fill="#000" >0.0</text>
<text transform="translate(288.0,63.5) scale(1.25,1)" text-anchor="start" style="font-family:'Liberation Serif',serif;font-size:38px;font-weight:bold" fill="#000" >(a)</text>
<text transform="translate(491.0,498.6) scale(1.185,1)" text-anchor="start" style="font-family:'Liberation Serif',serif;font-size:31px;font-weight:bold" fill="#000" >Voltage (V)</text>
<g transform="translate(186.5,301.5) rotate(-90)" fill="#000"><text x="0" y="0" style="font-family:'Liberation Serif',serif;font-weight:bold;font-size:31px" transform="scale(1.1,1)">J</text><text x="17" y="11.5" style="font-family:'Liberation Serif',serif;font-weight:bold;font-size:18px" transform="scale(1.05,1)">ph</text><text x="37" y="0" style="font-family:'Liberation Serif',serif;font-weight:bold;font-size:31px">(mA.cm</text><text x="139" y="-18.5" style="font-family:'Liberation Serif',serif;font-weight:bold;font-size:29px">-2</text><text x="161" y="0" style="font-family:'Liberation Serif',serif;font-weight:bold;font-size:31px">)</text></g>
<line x1="564" y1="188.4" x2="640" y2="188.4" stroke="#000000" stroke-width="6.5" stroke-linecap="round"/>
<line x1="723" y1="188.4" x2="798" y2="188.4" stroke="#404040" stroke-width="6.5" stroke-linecap="round"/>
<text transform="translate(648.6,197.7) scale(1.13,1)" style="font-family:'Liberation Serif',serif;font-size:30px" fill="#000">85<tspan font-size="17" dy="-13.5" dx="0.2">0</tspan><tspan dy="13.5" dx="0">C</tspan></text>
<text transform="translate(806.4,197.7) scale(1.13,1)" style="font-family:'Liberation Serif',serif;font-size:30px" fill="#000">50<tspan font-size="17" dy="-13.5" dx="0.2">0</tspan><tspan dy="13.5" dx="0">C</tspan></text>
<line x1="564" y1="226.7" x2="640" y2="226.7" stroke="#ff0000" stroke-width="6.5" stroke-linecap="round"/>
<line x1="723" y1="226.7" x2="798" y2="226.7" stroke="#ffff00" stroke-width="6.5" stroke-linecap="round"/>
<text transform="translate(648.6,236.0) scale(1.13,1)" style="font-family:'Liberation Serif',serif;font-size:30px" fill="#000">80<tspan font-size="17" dy="-13.5" dx="0.2">0</tspan><tspan dy="13.5" dx="0">C</tspan></text>
<text transform="translate(806.4,236.0) scale(1.13,1)" style="font-family:'Liberation Serif',serif;font-size:30px" fill="#000">45<tspan font-size="17" dy="-13.5" dx="0.2">0</tspan><tspan dy="13.5" dx="0">C</tspan></text>
<line x1="564" y1="264.9" x2="640" y2="264.9" stroke="#0000ff" stroke-width="6.5" stroke-linecap="round"/>
<line x1="723" y1="264.9" x2="798" y2="264.9" stroke="#ff6600" stroke-width="6.5" stroke-linecap="round"/>
<text transform="translate(648.6,274.2) scale(1.13,1)" style="font-family:'Liberation Serif',serif;font-size:30px" fill="#000">75<tspan font-size="17" dy="-13.5" dx="0.2">0</tspan><tspan dy="13.5" dx="0">C</tspan></text>
<text transform="translate(806.4,274.2) scale(1.13,1)" style="font-family:'Liberation Serif',serif;font-size:30px" fill="#000">40<tspan font-size="17" dy="-13.5" dx="0.2">0</tspan><tspan dy="13.5" dx="0">C</tspan></text>
<line x1="564" y1="303.1" x2="640" y2="303.1" stroke="#00ff00" stroke-width="6.5" stroke-linecap="round"/>
<line x1="723" y1="303.1" x2="798" y2="303.1" stroke="#6699cc" stroke-width="6.5" stroke-linecap="round"/>
<text transform="translate(648.6,312.4) scale(1.13,1)" style="font-family:'Liberation Serif',serif;font-size:30px" fill="#000">70<tspan font-size="17" dy="-13.5" dx="0.2">0</tspan><tspan dy="13.5" dx="0">C</tspan></text>
<text transform="translate(806.4,312.4) scale(1.13,1)" style="font-family:'Liberation Serif',serif;font-size:30px" fill="#000">35<tspan font-size="17" dy="-13.5" dx="0.2">0</tspan><tspan dy="13.5" dx="0">C</tspan></text>
<line x1="564" y1="341.4" x2="640" y2="341.4" stroke="#ff00ff" stroke-width="6.5" stroke-linecap="round"/>
<line x1="723" y1="341.4" x2="798" y2="341.4" stroke="#ffff80" stroke-width="6.5" stroke-linecap="round"/>
<text transform="translate(648.6,350.7) scale(1.13,1)" style="font-family:'Liberation Serif',serif;font-size:30px" fill="#000">65<tspan font-size="17" dy="-13.5" dx="0.2">0</tspan><tspan dy="13.5" dx="0">C</tspan></text>
<text transform="translate(806.4,350.7) scale(1.13,1)" style="font-family:'Liberation Serif',serif;font-size:30px" fill="#000">30<tspan font-size="17" dy="-13.5" dx="0.2">0</tspan><tspan dy="13.5" dx="0">C</tspan></text>
<line x1="564" y1="379.6" x2="640" y2="379.6" stroke="#808000" stroke-width="6.5" stroke-linecap="round"/>
<line x1="723" y1="379.6" x2="798" y2="379.6" stroke="#000000" stroke-width="6.5" stroke-linecap="round"/>
<text transform="translate(648.6,388.9) scale(1.13,1)" style="font-family:'Liberation Serif',serif;font-size:30px" fill="#000">60<tspan font-size="17" dy="-13.5" dx="0.2">0</tspan><tspan dy="13.5" dx="0">C</tspan></text>
<text transform="translate(806.4,388.9) scale(1.13,1)" style="font-family:'Liberation Serif',serif;font-size:30px" fill="#000">26<tspan font-size="17" dy="-13.5" dx="0.2">0</tspan><tspan dy="13.5" dx="0">C</tspan></text>
<line x1="564" y1="417.9" x2="640" y2="417.9" stroke="#00ffff" stroke-width="6.5" stroke-linecap="round"/>
<line x1="723" y1="417.9" x2="798" y2="417.9" stroke="#ff0000" stroke-width="6.5" stroke-linecap="round"/>
<text transform="translate(648.6,427.2) scale(1.13,1)" style="font-family:'Liberation Serif',serif;font-size:30px" fill="#000">55<tspan font-size="17" dy="-13.5" dx="0.2">0</tspan><tspan dy="13.5" dx="0">C</tspan></text>
<text transform="translate(806.4,427.2) scale(1.13,1)" style="font-family:'Liberation Serif',serif;font-size:30px" fill="#000">RT<tspan font-size="17" dy="-13.5" dx="0.2">0</tspan><tspan dy="13.5" dx="0">C</tspan></text>
<g stroke="#333333" fill="none" stroke-width="1.5">
<rect x="103" y="504.5" width="445.5" height="369" />
<line x1="96" y1="504.4" x2="103" y2="504.4"/>
<line x1="96" y1="550.6" x2="103" y2="550.6"/>
<line x1="96" y1="596.8" x2="103" y2="596.8"/>
<line x1="96" y1="642.9" x2="103" y2="642.9"/>
<line x1="96" y1="689.1" x2="103" y2="689.1"/>
<line x1="96" y1="735.3" x2="103" y2="735.3"/>
<line x1="96" y1="781.5" x2="103" y2="781.5"/>
<line x1="96" y1="827.7" x2="103" y2="827.7"/>
<line x1="96" y1="873.8" x2="103" y2="873.8"/>
<line x1="99.5" y1="527.5" x2="103" y2="527.5"/>
<line x1="99.5" y1="573.7" x2="103" y2="573.7"/>
<line x1="99.5" y1="619.8" x2="103" y2="619.8"/>
<line x1="99.5" y1="666.0" x2="103" y2="666.0"/>
<line x1="99.5" y1="712.2" x2="103" y2="712.2"/>
<line x1="99.5" y1="758.4" x2="103" y2="758.4"/>
<line x1="99.5" y1="804.6" x2="103" y2="804.6"/>
<line x1="99.5" y1="850.8" x2="103" y2="850.8"/>
<line x1="103.2" y1="873" x2="103.2" y2="881"/>
<line x1="158.8" y1="873" x2="158.8" y2="881"/>
<line x1="214.4" y1="873" x2="214.4" y2="881"/>
<line x1="270.0" y1="873" x2="270.0" y2="881"/>
<line x1="325.6" y1="873" x2="325.6" y2="881"/>
<line x1="381.2" y1="873" x2="381.2" y2="881"/>
<line x1="436.8" y1="873" x2="436.8" y2="881"/>
<line x1="492.4" y1="873" x2="492.4" y2="881"/>
<line x1="548.0" y1="873" x2="548.0" y2="881"/>
<line x1="131.0" y1="873" x2="131.0" y2="877.5"/>
<line x1="186.6" y1="873" x2="186.6" y2="877.5"/>
<line x1="242.2" y1="873" x2="242.2" y2="877.5"/>
<line x1="297.8" y1="873" x2="297.8" y2="877.5"/>
<line x1="353.4" y1="873" x2="353.4" y2="877.5"/>
<line x1="409.0" y1="873" x2="409.0" y2="877.5"/>
<line x1="464.6" y1="873" x2="464.6" y2="877.5"/>
<line x1="520.2" y1="873" x2="520.2" y2="877.5"/>
</g>
<text x="90" y="510.7" text-anchor="end" style="font-family:'Liberation Sans',sans-serif;font-size:22px" fill="#1a1a1a">3.8</text>
<text x="90" y="556.9" text-anchor="end" style="font-family:'Liberation Sans',sans-serif;font-size:22px" fill="#1a1a1a">3.6</text>
<text x="90" y="603.1" text-anchor="end" style="font-family:'Liberation Sans',sans-serif;font-size:22px" fill="#1a1a1a">3.4</text>
<text x="90" y="649.2" text-anchor="end" style="font-family:'Liberation Sans',sans-serif;font-size:22px" fill="#1a1a1a">3.2</text>
<text x="90" y="695.4" text-anchor="end" style="font-family:'Liberation Sans',sans-serif;font-size:22px" fill="#1a1a1a">3.0</text>
<text x="90" y="741.6" text-anchor="end" style="font-family:'Liberation Sans',sans-serif;font-size:22px" fill="#1a1a1a">2.8</text>
<text x="90" y="787.8" text-anchor="end" style="font-family:'Liberation Sans',sans-serif;font-size:22px" fill="#1a1a1a">2.6</text>
<text x="90" y="834.0" text-anchor="end" style="font-family:'Liberation Sans',sans-serif;font-size:22px" fill="#1a1a1a">2.4</text>
<text x="90" y="880.1" text-anchor="end" style="font-family:'Liberation Sans',sans-serif;font-size:22px" fill="#1a1a1a">2.2</text>
<text x="103.2" y="903.6" text-anchor="middle" style="font-family:'Liberation Sans',sans-serif;font-size:22px" fill="#1a1a1a">2.7</text>
<text x="158.8" y="903.6" text-anchor="middle" style="font-family:'Liberation Sans',sans-serif;font-size:22px" fill="#1a1a1a">2.8</text>
<text x="214.4" y="903.6" text-anchor="middle" style="font-family:'Liberation Sans',sans-serif;font-size:22px" fill="#1a1a1a">2.9</text>
<text x="270.0" y="903.6" text-anchor="middle" style="font-family:'Liberation Sans',sans-serif;font-size:22px" fill="#1a1a1a">3.0</text>
<text x="325.6" y="903.6" text-anchor="middle" style="font-family:'Liberation Sans',sans-serif;font-size:22px" fill="#1a1a1a">3.1</text>
<text x="381.2" y="903.6" text-anchor="middle" style="font-family:'Liberation Sans',sans-serif;font-size:22px" fill="#1a1a1a">3.2</text>
<text x="436.8" y="903.6" text-anchor="middle" style="font-family:'Liberation Sans',sans-serif;font-size:22px" fill="#1a1a1a">3.3</text>
<text x="492.4" y="903.6" text-anchor="middle" style="font-family:'Liberation Sans',sans-serif;font-size:22px" fill="#1a1a1a">3.4</text>
<text x="548.0" y="903.6" text-anchor="middle" style="font-family:'Liberation Sans',sans-serif;font-size:22px" fill="#1a1a1a">3.5</text>
<circle cx="154.7" cy="529.6" r="11.6" fill="url(#ball)"/>
<circle cx="169" cy="576.5" r="11.6" fill="url(#ball)"/>
<circle cx="204.6" cy="583.4" r="11.6" fill="url(#ball)"/>
<circle cx="218.3" cy="587.3" r="11.6" fill="url(#ball)"/>
<circle cx="247.6" cy="600" r="11.6" fill="url(#ball)"/>
<circle cx="272.1" cy="617.2" r="11.6" fill="url(#ball)"/>
<circle cx="297.5" cy="654.4" r="11.6" fill="url(#ball)"/>
<circle cx="324" cy="673" r="11.6" fill="url(#ball)"/>
<circle cx="353.7" cy="686.8" r="11.6" fill="url(#ball)"/>
<circle cx="378.8" cy="722.8" r="11.6" fill="url(#ball)"/>
<circle cx="407.2" cy="765" r="11.6" fill="url(#ball)"/>
<circle cx="437.1" cy="788.7" r="11.6" fill="url(#ball)"/>
<circle cx="461.8" cy="806.7" r="11.6" fill="url(#ball)"/>
<circle cx="493.7" cy="838.8" r="11.6" fill="url(#ball)"/>
<line x1="155.2" y1="532.8" x2="493.3" y2="829.1" stroke="#ff0000" stroke-width="7" stroke-linecap="round"/>
<rect x="207.2" y="514" width="186" height="45.8" fill="#fff" stroke="#333333" stroke-width="1.2"/>
<circle cx="228.4" cy="526.1" r="9.4" fill="url(#ball)"/>
<line x1="210" y1="547.7" x2="247.5" y2="547.7" stroke="#ff0000" stroke-width="5.5" stroke-linecap="round"/>
<text x="252.8" y="531.6" style="font-family:'Liberation Sans',sans-serif;font-size:16px" fill="#1a1a1a" textLength="138" lengthAdjust="spacingAndGlyphs">Experimential data</text>
<text transform="translate(256,553.1) scale(1.066,1)" style="font-family:'Liberation Sans',sans-serif;font-size:16px" fill="#1a1a1a">Linear fitting</text>
<text transform="translate(499.3,541.7) scale(1.0,1)" text-anchor="start" style="font-family:'Liberation Serif',serif;font-size:41px;font-weight:bold" fill="#000" >(b)</text>
<g fill="#fff" stroke="#d0d0d0" stroke-width="1">
<rect x="105.7" y="772.1" width="302.3" height="99.39999999999998" stroke="#3a3a3a" stroke-width="1.5"/>
<line x1="106.7" y1="797.0" x2="407" y2="797.0"/>
<line x1="106.7" y1="821.8" x2="407" y2="821.8"/>
<line x1="106.7" y1="846.6" x2="407" y2="846.6"/>
<line x1="261.4" y1="773.1" x2="261.4" y2="870.5"/>
</g>
<text transform="translate(109.6,789.3) scale(1.035,1)" style="font-family:'Liberation Sans',sans-serif;font-size:16px" fill="#2a2a2a">Equation</text>
<text transform="translate(334.7,789.3) scale(1.035,1)" text-anchor="middle" style="font-family:'Liberation Sans',sans-serif;font-size:16px" fill="#2a2a2a">y = a + b*x</text>
<text transform="translate(109.6,814.2) scale(1.035,1)" style="font-family:'Liberation Sans',sans-serif;font-size:16px" fill="#2a2a2a">Intercept</text>
<text transform="translate(334.7,814.2) scale(1.035,1)" text-anchor="middle" style="font-family:'Liberation Sans',sans-serif;font-size:16px" fill="#2a2a2a">9.58911</text>
<text transform="translate(109.6,839.0) scale(1.035,1)" style="font-family:'Liberation Sans',sans-serif;font-size:16px" fill="#2a2a2a">Slope</text>
<text transform="translate(334.7,839.0) scale(1.035,1)" text-anchor="middle" style="font-family:'Liberation Sans',sans-serif;font-size:16px" fill="#2a2a2a">-2116.66696</text>
<text transform="translate(109.6,863.9) scale(1.035,1)" style="font-family:'Liberation Sans',sans-serif;font-size:16px" fill="#2a2a2a">R-Square(COD)</text>
<text transform="translate(334.7,863.9) scale(1.035,1)" text-anchor="middle" style="font-family:'Liberation Sans',sans-serif;font-size:16px" fill="#2a2a2a">0.98157</text>
<line x1="103" y1="873.6" x2="548" y2="873.6" stroke="#222" stroke-width="1.8"/>
<text transform="translate(242.9,938.4) scale(1.027,1)" style="font-family:'Liberation Serif',serif;font-size:30px;font-weight:bold" fill="#000">1/T(K<tspan font-size="22" dy="-9">-1</tspan><tspan dy="9">).10</tspan><tspan font-size="20" dy="-11">-3</tspan></text>
<g transform="translate(33.2,729.8) rotate(-90) scale(0.985,1)"><text style="font-family:'Liberation Serif',serif;font-size:31px;font-weight:bold" fill="#000">Ln (J<tspan font-size="21" dy="10">ph</tspan><tspan dy="-10">)</tspan></text></g>
<g stroke="#333333" fill="none" stroke-width="1.5">
<rect x="637.7" y="512.4" width="458" height="368.2" />
<line x1="630.5" y1="512.4" x2="637.7" y2="512.4"/>
<line x1="630.5" y1="553.3" x2="637.7" y2="553.3"/>
<line x1="630.5" y1="594.2" x2="637.7" y2="594.2"/>
<line x1="630.5" y1="635.1" x2="637.7" y2="635.1"/>
<line x1="630.5" y1="676.0" x2="637.7" y2="676.0"/>
<line x1="630.5" y1="716.9" x2="637.7" y2="716.9"/>
<line x1="630.5" y1="757.8" x2="637.7" y2="757.8"/>
<line x1="630.5" y1="798.7" x2="637.7" y2="798.7"/>
<line x1="630.5" y1="839.6" x2="637.7" y2="839.6"/>
<line x1="630.5" y1="880.5" x2="637.7" y2="880.5"/>
<line x1="634" y1="532.8" x2="637.7" y2="532.8"/>
<line x1="634" y1="573.8" x2="637.7" y2="573.8"/>
<line x1="634" y1="614.6" x2="637.7" y2="614.6"/>
<line x1="634" y1="655.5" x2="637.7" y2="655.5"/>
<line x1="634" y1="696.4" x2="637.7" y2="696.4"/>
<line x1="634" y1="737.3" x2="637.7" y2="737.3"/>
<line x1="634" y1="778.2" x2="637.7" y2="778.2"/>
<line x1="634" y1="819.1" x2="637.7" y2="819.1"/>
<line x1="634" y1="860.0" x2="637.7" y2="860.0"/>
<line x1="637.7" y1="880.6" x2="637.7" y2="888"/>
<line x1="694.9" y1="880.6" x2="694.9" y2="888"/>
<line x1="752.1" y1="880.6" x2="752.1" y2="888"/>
<line x1="809.3" y1="880.6" x2="809.3" y2="888"/>
<line x1="866.5" y1="880.6" x2="866.5" y2="888"/>
<line x1="923.7" y1="880.6" x2="923.7" y2="888"/>
<line x1="980.9" y1="880.6" x2="980.9" y2="888"/>
<line x1="1038.1" y1="880.6" x2="1038.1" y2="888"/>
<line x1="1095.3" y1="880.6" x2="1095.3" y2="888"/>
<line x1="666.3" y1="880.6" x2="666.3" y2="884.5"/>
<line x1="723.5" y1="880.6" x2="723.5" y2="884.5"/>
<line x1="780.7" y1="880.6" x2="780.7" y2="884.5"/>
<line x1="837.9" y1="880.6" x2="837.9" y2="884.5"/>
<line x1="895.1" y1="880.6" x2="895.1" y2="884.5"/>
<line x1="952.3" y1="880.6" x2="952.3" y2="884.5"/>
<line x1="1009.5" y1="880.6" x2="1009.5" y2="884.5"/>
<line x1="1066.7" y1="880.6" x2="1066.7" y2="884.5"/>
</g>
<text x="624.5" y="518.4" text-anchor="end" style="font-family:'Liberation Sans',sans-serif;font-size:22px" fill="#1a1a1a">2.8</text>
<text x="624.5" y="559.3" text-anchor="end" style="font-family:'Liberation Sans',sans-serif;font-size:22px" fill="#1a1a1a">2.6</text>
<text x="624.5" y="600.2" text-anchor="end" style="font-family:'Liberation Sans',sans-serif;font-size:22px" fill="#1a1a1a">2.4</text>
<text x="624.5" y="641.1" text-anchor="end" style="font-family:'Liberation Sans',sans-serif;font-size:22px" fill="#1a1a1a">2.2</text>
<text x="624.5" y="682.0" text-anchor="end" style="font-family:'Liberation Sans',sans-serif;font-size:22px" fill="#1a1a1a">2.0</text>
<text x="624.5" y="722.9" text-anchor="end" style="font-family:'Liberation Sans',sans-serif;font-size:22px" fill="#1a1a1a">1.8</text>
<text x="624.5" y="763.8" text-anchor="end" style="font-family:'Liberation Sans',sans-serif;font-size:22px" fill="#1a1a1a">1.6</text>
<text x="624.5" y="804.7" text-anchor="end" style="font-family:'Liberation Sans',sans-serif;font-size:22px" fill="#1a1a1a">1.4</text>
<text x="624.5" y="845.6" text-anchor="end" style="font-family:'Liberation Sans',sans-serif;font-size:22px" fill="#1a1a1a">1.2</text>
<text x="624.5" y="886.5" text-anchor="end" style="font-family:'Liberation Sans',sans-serif;font-size:22px" fill="#1a1a1a">1.0</text>
<text x="637.7" y="909.7" text-anchor="middle" style="font-family:'Liberation Sans',sans-serif;font-size:22px" fill="#1a1a1a">2.7</text>
<text x="694.9" y="909.7" text-anchor="middle" style="font-family:'Liberation Sans',sans-serif;font-size:22px" fill="#1a1a1a">2.8</text>
<text x="752.1" y="909.7" text-anchor="middle" style="font-family:'Liberation Sans',sans-serif;font-size:22px" fill="#1a1a1a">2.9</text>
<text x="809.3" y="909.7" text-anchor="middle" style="font-family:'Liberation Sans',sans-serif;font-size:22px" fill="#1a1a1a">3.0</text>
<text x="866.5" y="909.7" text-anchor="middle" style="font-family:'Liberation Sans',sans-serif;font-size:22px" fill="#1a1a1a">3.1</text>
<text x="923.7" y="909.7" text-anchor="middle" style="font-family:'Liberation Sans',sans-serif;font-size:22px" fill="#1a1a1a">3.2</text>
<text x="980.9" y="909.7" text-anchor="middle" style="font-family:'Liberation Sans',sans-serif;font-size:22px" fill="#1a1a1a">3.3</text>
<text x="1038.1" y="909.7" text-anchor="middle" style="font-family:'Liberation Sans',sans-serif;font-size:22px" fill="#1a1a1a">3.4</text>
<text x="1095.3" y="909.7" text-anchor="middle" style="font-family:'Liberation Sans',sans-serif;font-size:22px" fill="#1a1a1a">3.5</text>
<ellipse cx="690.6" cy="538.5" rx="12.2" ry="12.2" fill="url(#ball)"/>
<ellipse cx="705" cy="583.9" rx="12.2" ry="12.2" fill="url(#ball)"/>
<ellipse cx="741.1" cy="594.2" rx="12.2" ry="12.2" fill="url(#ball)"/>
<ellipse cx="755.5" cy="599.3" rx="12.2" ry="12.2" fill="url(#ball)"/>
<ellipse cx="786.4" cy="614.7" rx="12.2" ry="12.2" fill="url(#ball)"/>
<ellipse cx="811.1" cy="632.3" rx="12.2" ry="12.2" fill="url(#ball)"/>
<ellipse cx="836.8" cy="668.3" rx="12.2" ry="12.2" fill="url(#ball)"/>
<ellipse cx="864" cy="688.1" rx="12.2" ry="12.2" fill="url(#ball)"/>
<ellipse cx="895.1" cy="703" rx="12.2" ry="12.2" fill="url(#ball)"/>
<ellipse cx="921.2" cy="738.1" rx="12.2" ry="12.2" fill="url(#ball)"/>
<ellipse cx="949.5" cy="778.9" rx="12.2" ry="12.2" fill="url(#ball)"/>
<ellipse cx="981.2" cy="803.8" rx="12.2" ry="12.2" fill="url(#ball)"/>
<ellipse cx="1006.1" cy="822" rx="12.2" ry="12.2" fill="url(#ball)"/>
<ellipse cx="1038.9" cy="853.7" rx="12.2" ry="12.2" fill="url(#ball)"/>
<line x1="691.8" y1="544.1" x2="1038.2" y2="846.5" stroke="#ff0000" stroke-width="7" stroke-linecap="round"/>
<rect x="800.1" y="524" width="191.3" height="45" fill="#fff" stroke="#333333" stroke-width="1.2"/>
<circle cx="821.2" cy="535.7" r="9.6" fill="url(#ball)"/>
<line x1="802" y1="556.4" x2="841" y2="556.4" stroke="#ff0000" stroke-width="5.5" stroke-linecap="round"/>
<text x="846.6" y="540.5" style="font-family:'Liberation Sans',sans-serif;font-size:16px" fill="#1a1a1a" textLength="141.8" lengthAdjust="spacingAndGlyphs">Experimential data</text>
<text transform="translate(849.8,563) scale(1.098,1)" style="font-family:'Liberation Sans',sans-serif;font-size:16px" fill="#1a1a1a">Linear fitting</text>
<text transform="translate(1034.9,553.0) scale(1.0,1)" text-anchor="start" style="font-family:'Liberation Serif',serif;font-size:41px;font-weight:bold" fill="#000" >(c)</text>
<g fill="#fff" stroke="#d0d0d0" stroke-width="1">
<rect x="639.5" y="772.2" width="299.29999999999995" height="100.5" stroke="#3a3a3a" stroke-width="1.5"/>
<line x1="640.5" y1="797.3" x2="937.8" y2="797.3"/>
<line x1="640.5" y1="822.5" x2="937.8" y2="822.5"/>
<line x1="640.5" y1="847.6" x2="937.8" y2="847.6"/>
<line x1="792.3" y1="773.2" x2="792.3" y2="871.7"/>
</g>
<text transform="translate(642.4,789.4) scale(1.065,1)" style="font-family:'Liberation Sans',sans-serif;font-size:16px" fill="#2a2a2a">Equation</text>
<text transform="translate(865.5,789.4) scale(1.065,1)" text-anchor="middle" style="font-family:'Liberation Sans',sans-serif;font-size:16px" fill="#2a2a2a">y = a + b*x</text>
<text transform="translate(642.4,814.5) scale(1.065,1)" style="font-family:'Liberation Sans',sans-serif;font-size:16px" fill="#2a2a2a">Intercept</text>
<text transform="translate(865.5,814.5) scale(1.065,1)" text-anchor="middle" style="font-family:'Liberation Sans',sans-serif;font-size:16px" fill="#2a2a2a">9.47232 ± 0.2538</text>
<text transform="translate(642.4,839.7) scale(1.065,1)" style="font-family:'Liberation Sans',sans-serif;font-size:16px" fill="#2a2a2a">Slope</text>
<text transform="translate(865.5,839.7) scale(1.065,1)" text-anchor="middle" style="font-family:'Liberation Sans',sans-serif;font-size:16px" fill="#2a2a2a">-2443.08442 ± 82.</text>
<text transform="translate(642.4,864.8) scale(1.065,1)" style="font-family:'Liberation Sans',sans-serif;font-size:16px" fill="#2a2a2a">R-Square(COD)</text>
<text transform="translate(865.5,864.8) scale(1.065,1)" text-anchor="middle" style="font-family:'Liberation Sans',sans-serif;font-size:16px" fill="#2a2a2a">0.9866</text>
<line x1="637.7" y1="880.6" x2="1096" y2="880.6" stroke="#2a2a2a" stroke-width="1.6"/>
<text transform="translate(764.3,949.4) scale(0.975,1)" style="font-family:'Liberation Serif',serif;font-size:32px;font-weight:bold" fill="#000">1/T(K<tspan font-size="19" dy="-13">-1</tspan><tspan dy="13">) .10</tspan><tspan font-size="21" dy="-14">-3</tspan></text>
<g transform="translate(573.3,772) rotate(-90) scale(1.015,1)"><text style="font-family:'Liberation Serif',serif;font-size:30px;font-weight:bold" fill="#000">Ln (J<tspan font-size="21" dy="10">ph</tspan><tspan dy="-10">/T)</tspan></text></g>
</svg></body></html>
